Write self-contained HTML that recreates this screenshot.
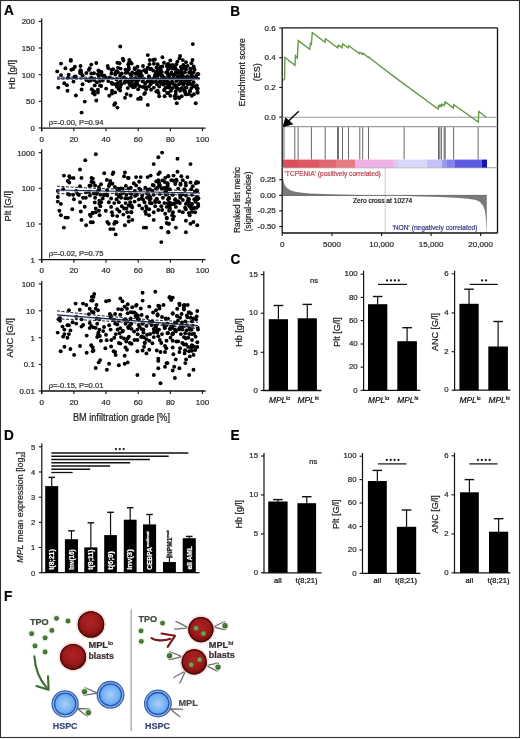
<!DOCTYPE html>
<html><head><meta charset="utf-8"><title>Figure</title>
<style>
html,body{margin:0;padding:0;background:#fff;}
svg{display:block;font-family:"Liberation Sans", sans-serif;filter:blur(0.35px);}
text{stroke-width:0.22px;paint-order:stroke;}
</style></head>
<body>
<svg width="520" height="739" viewBox="0 0 520 739">
<defs>
<radialGradient id="gred" cx="48%" cy="42%" r="58%"><stop offset="0" stop-color="#b02222"/><stop offset="0.6" stop-color="#9c1a1a"/><stop offset="0.85" stop-color="#801212"/><stop offset="1" stop-color="#520808"/></radialGradient>
<radialGradient id="gblue" cx="50%" cy="50%" r="55%"><stop offset="0" stop-color="#a6d0fb"/><stop offset="0.7" stop-color="#72b0f4"/><stop offset="1" stop-color="#5596e6"/></radialGradient>
<radialGradient id="gdot" cx="45%" cy="40%" r="60%"><stop offset="0" stop-color="#5a8a44"/><stop offset="1" stop-color="#2e5a22"/></radialGradient>
<radialGradient id="gdot2" cx="50%" cy="50%" r="55%"><stop offset="0" stop-color="#7aae58"/><stop offset="0.7" stop-color="#5f9844"/><stop offset="1" stop-color="#3d6e2c"/></radialGradient>
</defs>
<rect x="0" y="0" width="520" height="739" fill="#fff"/>
<text x="4.00" y="15.40" font-size="14.8" text-anchor="start" fill="#000" stroke="#000" font-weight="bold" textLength="9.82" lengthAdjust="spacingAndGlyphs">A</text>
<g fill="#000"><circle cx="70.8" cy="60.0" r="1.95"/><circle cx="61.0" cy="63.6" r="1.95"/><circle cx="80.5" cy="66.0" r="1.95"/><circle cx="91.3" cy="64.6" r="1.95"/><circle cx="65.4" cy="68.3" r="1.95"/><circle cx="71.3" cy="69.7" r="1.95"/><circle cx="80.5" cy="70.3" r="1.95"/><circle cx="89.7" cy="68.3" r="1.95"/><circle cx="57.2" cy="71.4" r="1.95"/><circle cx="80.0" cy="71.9" r="1.95"/><circle cx="86.4" cy="73.0" r="1.95"/><circle cx="91.3" cy="73.5" r="1.95"/><circle cx="61.0" cy="75.1" r="1.95"/><circle cx="68.6" cy="74.6" r="1.95"/><circle cx="74.5" cy="76.8" r="1.95"/><circle cx="68.1" cy="77.8" r="1.95"/><circle cx="86.4" cy="80.0" r="1.95"/><circle cx="90.8" cy="80.5" r="1.95"/><circle cx="73.5" cy="81.6" r="1.95"/><circle cx="64.3" cy="83.2" r="1.95"/><circle cx="67.0" cy="85.2" r="1.95"/><circle cx="58.3" cy="87.6" r="1.95"/><circle cx="82.6" cy="84.3" r="1.95"/><circle cx="81.6" cy="89.5" r="1.95"/><circle cx="91.8" cy="89.2" r="1.95"/><circle cx="92.9" cy="93.0" r="1.95"/><circle cx="67.5" cy="90.8" r="1.95"/><circle cx="84.8" cy="101.6" r="1.95"/><circle cx="81.6" cy="112.6" r="1.95"/><circle cx="120.3" cy="46.5" r="1.95"/><circle cx="96.3" cy="63.0" r="1.95"/><circle cx="122.8" cy="58.6" r="1.95"/><circle cx="123.4" cy="60.5" r="1.95"/><circle cx="117.4" cy="62.7" r="1.95"/><circle cx="119.6" cy="63.2" r="1.95"/><circle cx="129.3" cy="62.2" r="1.95"/><circle cx="128.2" cy="64.3" r="1.95"/><circle cx="107.7" cy="66.0" r="1.95"/><circle cx="108.2" cy="68.1" r="1.95"/><circle cx="113.1" cy="69.2" r="1.95"/><circle cx="118.0" cy="67.6" r="1.95"/><circle cx="120.6" cy="68.6" r="1.95"/><circle cx="125.5" cy="69.7" r="1.95"/><circle cx="128.8" cy="69.2" r="1.95"/><circle cx="99.6" cy="71.4" r="1.95"/><circle cx="97.9" cy="74.1" r="1.95"/><circle cx="101.7" cy="74.6" r="1.95"/><circle cx="104.4" cy="75.7" r="1.95"/><circle cx="111.5" cy="73.5" r="1.95"/><circle cx="115.2" cy="74.6" r="1.95"/><circle cx="118.0" cy="72.4" r="1.95"/><circle cx="121.7" cy="73.5" r="1.95"/><circle cx="127.7" cy="72.4" r="1.95"/><circle cx="130.4" cy="74.6" r="1.95"/><circle cx="94.2" cy="80.0" r="1.95"/><circle cx="96.9" cy="82.2" r="1.95"/><circle cx="102.8" cy="80.5" r="1.95"/><circle cx="108.2" cy="81.1" r="1.95"/><circle cx="111.5" cy="82.7" r="1.95"/><circle cx="115.2" cy="84.3" r="1.95"/><circle cx="118.0" cy="82.7" r="1.95"/><circle cx="120.6" cy="81.1" r="1.95"/><circle cx="124.4" cy="82.7" r="1.95"/><circle cx="129.3" cy="83.2" r="1.95"/><circle cx="130.9" cy="85.4" r="1.95"/><circle cx="94.7" cy="85.4" r="1.95"/><circle cx="101.2" cy="86.0" r="1.95"/><circle cx="106.1" cy="88.6" r="1.95"/><circle cx="97.9" cy="89.7" r="1.95"/><circle cx="94.2" cy="91.4" r="1.95"/><circle cx="97.9" cy="92.4" r="1.95"/><circle cx="112.0" cy="90.8" r="1.95"/><circle cx="115.2" cy="92.4" r="1.95"/><circle cx="112.0" cy="93.5" r="1.95"/><circle cx="109.3" cy="95.7" r="1.95"/><circle cx="126.6" cy="94.1" r="1.95"/><circle cx="125.0" cy="97.8" r="1.95"/><circle cx="94.7" cy="94.6" r="1.95"/><circle cx="96.3" cy="100.5" r="1.95"/><circle cx="115.2" cy="103.2" r="1.95"/><circle cx="114.2" cy="104.9" r="1.95"/><circle cx="117.4" cy="107.6" r="1.95"/><circle cx="147.8" cy="55.1" r="1.95"/><circle cx="162.4" cy="57.3" r="1.95"/><circle cx="153.2" cy="60.0" r="1.95"/><circle cx="154.9" cy="59.5" r="1.95"/><circle cx="130.5" cy="62.2" r="1.95"/><circle cx="164.0" cy="62.7" r="1.95"/><circle cx="149.5" cy="64.3" r="1.95"/><circle cx="157.6" cy="64.3" r="1.95"/><circle cx="168.4" cy="64.3" r="1.95"/><circle cx="143.0" cy="66.0" r="1.95"/><circle cx="147.8" cy="67.6" r="1.95"/><circle cx="151.1" cy="68.6" r="1.95"/><circle cx="160.3" cy="67.0" r="1.95"/><circle cx="162.4" cy="66.5" r="1.95"/><circle cx="166.8" cy="66.0" r="1.95"/><circle cx="134.9" cy="69.2" r="1.95"/><circle cx="144.1" cy="70.3" r="1.95"/><circle cx="159.2" cy="69.7" r="1.95"/><circle cx="168.4" cy="69.2" r="1.95"/><circle cx="132.2" cy="72.4" r="1.95"/><circle cx="136.5" cy="73.0" r="1.95"/><circle cx="140.8" cy="72.4" r="1.95"/><circle cx="146.2" cy="72.4" r="1.95"/><circle cx="155.9" cy="72.4" r="1.95"/><circle cx="160.3" cy="72.4" r="1.95"/><circle cx="166.2" cy="72.4" r="1.95"/><circle cx="131.6" cy="75.7" r="1.95"/><circle cx="138.1" cy="74.6" r="1.95"/><circle cx="141.9" cy="75.7" r="1.95"/><circle cx="148.9" cy="76.2" r="1.95"/><circle cx="154.9" cy="75.1" r="1.95"/><circle cx="158.6" cy="74.6" r="1.95"/><circle cx="162.4" cy="75.7" r="1.95"/><circle cx="167.8" cy="74.6" r="1.95"/><circle cx="132.2" cy="81.1" r="1.95"/><circle cx="136.5" cy="81.6" r="1.95"/><circle cx="143.0" cy="81.1" r="1.95"/><circle cx="147.3" cy="81.6" r="1.95"/><circle cx="151.6" cy="81.1" r="1.95"/><circle cx="155.9" cy="81.6" r="1.95"/><circle cx="160.8" cy="81.1" r="1.95"/><circle cx="166.8" cy="81.6" r="1.95"/><circle cx="132.2" cy="84.3" r="1.95"/><circle cx="135.9" cy="83.8" r="1.95"/><circle cx="145.1" cy="83.8" r="1.95"/><circle cx="150.5" cy="84.3" r="1.95"/><circle cx="157.0" cy="84.3" r="1.95"/><circle cx="163.5" cy="83.8" r="1.95"/><circle cx="168.4" cy="84.3" r="1.95"/><circle cx="132.7" cy="87.0" r="1.95"/><circle cx="143.0" cy="87.0" r="1.95"/><circle cx="148.9" cy="86.5" r="1.95"/><circle cx="153.8" cy="87.6" r="1.95"/><circle cx="159.2" cy="86.5" r="1.95"/><circle cx="165.7" cy="87.6" r="1.95"/><circle cx="138.1" cy="89.2" r="1.95"/><circle cx="146.2" cy="89.2" r="1.95"/><circle cx="151.1" cy="89.7" r="1.95"/><circle cx="157.6" cy="90.8" r="1.95"/><circle cx="145.1" cy="93.0" r="1.95"/><circle cx="144.1" cy="94.1" r="1.95"/><circle cx="158.6" cy="93.0" r="1.95"/><circle cx="159.2" cy="96.2" r="1.95"/><circle cx="168.4" cy="93.0" r="1.95"/><circle cx="164.6" cy="96.2" r="1.95"/><circle cx="138.1" cy="98.9" r="1.95"/><circle cx="140.8" cy="98.9" r="1.95"/><circle cx="147.8" cy="104.9" r="1.95"/><circle cx="192.8" cy="44.1" r="1.95"/><circle cx="180.1" cy="56.0" r="1.95"/><circle cx="179.5" cy="58.4" r="1.95"/><circle cx="170.3" cy="60.5" r="1.95"/><circle cx="192.5" cy="60.0" r="1.95"/><circle cx="186.0" cy="62.2" r="1.95"/><circle cx="177.4" cy="61.6" r="1.95"/><circle cx="191.4" cy="63.2" r="1.95"/><circle cx="167.6" cy="64.3" r="1.95"/><circle cx="172.5" cy="64.9" r="1.95"/><circle cx="176.3" cy="64.3" r="1.95"/><circle cx="183.3" cy="64.9" r="1.95"/><circle cx="187.6" cy="65.9" r="1.95"/><circle cx="193.6" cy="66.5" r="1.95"/><circle cx="168.2" cy="68.1" r="1.95"/><circle cx="171.9" cy="67.6" r="1.95"/><circle cx="175.7" cy="68.6" r="1.95"/><circle cx="181.7" cy="69.2" r="1.95"/><circle cx="186.0" cy="69.2" r="1.95"/><circle cx="190.3" cy="68.6" r="1.95"/><circle cx="194.6" cy="69.7" r="1.95"/><circle cx="167.1" cy="71.9" r="1.95"/><circle cx="171.4" cy="72.4" r="1.95"/><circle cx="175.7" cy="73.0" r="1.95"/><circle cx="180.6" cy="72.4" r="1.95"/><circle cx="184.9" cy="72.4" r="1.95"/><circle cx="189.2" cy="72.4" r="1.95"/><circle cx="193.6" cy="72.4" r="1.95"/><circle cx="198.4" cy="74.1" r="1.95"/><circle cx="169.2" cy="75.7" r="1.95"/><circle cx="173.6" cy="75.7" r="1.95"/><circle cx="177.9" cy="76.2" r="1.95"/><circle cx="182.2" cy="75.7" r="1.95"/><circle cx="187.6" cy="76.2" r="1.95"/><circle cx="191.9" cy="75.7" r="1.95"/><circle cx="196.3" cy="75.7" r="1.95"/><circle cx="167.6" cy="81.1" r="1.95"/><circle cx="171.9" cy="81.6" r="1.95"/><circle cx="176.3" cy="81.1" r="1.95"/><circle cx="180.6" cy="81.6" r="1.95"/><circle cx="184.9" cy="81.1" r="1.95"/><circle cx="189.2" cy="81.6" r="1.95"/><circle cx="193.6" cy="82.2" r="1.95"/><circle cx="169.8" cy="84.3" r="1.95"/><circle cx="174.1" cy="84.9" r="1.95"/><circle cx="179.0" cy="84.3" r="1.95"/><circle cx="183.3" cy="84.9" r="1.95"/><circle cx="187.6" cy="84.3" r="1.95"/><circle cx="192.5" cy="84.9" r="1.95"/><circle cx="196.8" cy="85.4" r="1.95"/><circle cx="168.2" cy="87.6" r="1.95"/><circle cx="172.5" cy="88.1" r="1.95"/><circle cx="176.8" cy="87.6" r="1.95"/><circle cx="181.7" cy="88.1" r="1.95"/><circle cx="186.5" cy="87.6" r="1.95"/><circle cx="191.4" cy="88.1" r="1.95"/><circle cx="196.8" cy="88.6" r="1.95"/><circle cx="170.9" cy="90.8" r="1.95"/><circle cx="175.7" cy="91.4" r="1.95"/><circle cx="180.1" cy="90.8" r="1.95"/><circle cx="184.9" cy="91.4" r="1.95"/><circle cx="189.8" cy="91.9" r="1.95"/><circle cx="197.4" cy="91.9" r="1.95"/><circle cx="167.1" cy="93.0" r="1.95"/><circle cx="170.3" cy="95.7" r="1.95"/><circle cx="175.7" cy="94.1" r="1.95"/><circle cx="181.7" cy="96.2" r="1.95"/><circle cx="185.5" cy="94.1" r="1.95"/><circle cx="188.7" cy="94.1" r="1.95"/><circle cx="175.2" cy="98.4" r="1.95"/><circle cx="176.8" cy="103.2" r="1.95"/><circle cx="195.7" cy="103.2" r="1.95"/><circle cx="190.8" cy="79.4" r="1.95"/><circle cx="137.5" cy="84.5" r="1.95"/><circle cx="152.5" cy="82.0" r="1.95"/><circle cx="136.3" cy="82.4" r="1.95"/><circle cx="135.2" cy="73.8" r="1.95"/><circle cx="194.1" cy="86.4" r="1.95"/><circle cx="182.8" cy="60.1" r="1.95"/><circle cx="176.2" cy="72.3" r="1.95"/><circle cx="185.3" cy="66.6" r="1.95"/><circle cx="174.2" cy="68.7" r="1.95"/><circle cx="126.9" cy="81.6" r="1.95"/><circle cx="117.5" cy="84.9" r="1.95"/><circle cx="146.8" cy="69.4" r="1.95"/><circle cx="180.2" cy="77.9" r="1.95"/><circle cx="193.9" cy="94.2" r="1.95"/><circle cx="128.8" cy="80.6" r="1.95"/><circle cx="190.0" cy="90.5" r="1.95"/><circle cx="134.1" cy="87.1" r="1.95"/><circle cx="185.0" cy="88.0" r="1.95"/><circle cx="182.5" cy="75.4" r="1.95"/><circle cx="150.1" cy="81.2" r="1.95"/><circle cx="140.5" cy="97.6" r="1.95"/><circle cx="156.8" cy="71.6" r="1.95"/><circle cx="157.4" cy="68.5" r="1.95"/><circle cx="197.8" cy="88.8" r="1.95"/><circle cx="80.5" cy="73.2" r="1.95"/><circle cx="156.8" cy="78.6" r="1.95"/><circle cx="183.8" cy="83.3" r="1.95"/><circle cx="174.4" cy="74.8" r="1.95"/><circle cx="157.5" cy="76.2" r="1.95"/><circle cx="184.0" cy="68.1" r="1.95"/><circle cx="191.3" cy="77.0" r="1.95"/><circle cx="180.8" cy="66.9" r="1.95"/><circle cx="136.9" cy="81.6" r="1.95"/><circle cx="134.3" cy="79.0" r="1.95"/><circle cx="120.2" cy="87.3" r="1.95"/><circle cx="98.7" cy="76.0" r="1.95"/><circle cx="145.5" cy="87.2" r="1.95"/><circle cx="127.8" cy="88.1" r="1.95"/><circle cx="178.0" cy="88.7" r="1.95"/><circle cx="163.4" cy="84.6" r="1.95"/><circle cx="159.4" cy="81.9" r="1.95"/><circle cx="125.4" cy="80.4" r="1.95"/><circle cx="172.0" cy="74.1" r="1.95"/><circle cx="195.5" cy="77.6" r="1.95"/><circle cx="183.4" cy="77.7" r="1.95"/><circle cx="191.8" cy="95.8" r="1.95"/><circle cx="156.4" cy="67.6" r="1.95"/><circle cx="191.9" cy="75.8" r="1.95"/><circle cx="163.9" cy="80.3" r="1.95"/><circle cx="160.9" cy="70.0" r="1.95"/><circle cx="190.9" cy="84.2" r="1.95"/><circle cx="176.6" cy="72.6" r="1.95"/><circle cx="88.9" cy="81.1" r="1.95"/><circle cx="149.6" cy="78.3" r="1.95"/><circle cx="129.3" cy="60.0" r="1.95"/><circle cx="184.2" cy="83.1" r="1.95"/><circle cx="128.7" cy="67.1" r="1.95"/><circle cx="186.5" cy="80.8" r="1.95"/><circle cx="184.1" cy="90.5" r="1.95"/><circle cx="130.3" cy="85.4" r="1.95"/><circle cx="168.9" cy="78.0" r="1.95"/><circle cx="188.8" cy="78.5" r="1.95"/><circle cx="177.3" cy="79.6" r="1.95"/><circle cx="140.7" cy="76.1" r="1.95"/><circle cx="190.3" cy="70.9" r="1.95"/><circle cx="191.8" cy="78.1" r="1.95"/><circle cx="109.7" cy="77.5" r="1.95"/><circle cx="130.6" cy="95.5" r="1.95"/><circle cx="153.2" cy="82.3" r="1.95"/><circle cx="178.1" cy="97.1" r="1.95"/><circle cx="105.9" cy="77.8" r="1.95"/><circle cx="182.1" cy="81.1" r="1.95"/><circle cx="188.0" cy="78.3" r="1.95"/><circle cx="138.4" cy="71.0" r="1.95"/><circle cx="111.4" cy="70.0" r="1.95"/><circle cx="120.1" cy="75.7" r="1.95"/><circle cx="140.0" cy="86.4" r="1.95"/><circle cx="150.3" cy="69.0" r="1.95"/><circle cx="168.7" cy="66.6" r="1.95"/><circle cx="189.3" cy="77.6" r="1.95"/><circle cx="190.3" cy="72.7" r="1.95"/><circle cx="182.0" cy="72.2" r="1.95"/><circle cx="156.3" cy="91.4" r="1.95"/><circle cx="163.6" cy="77.5" r="1.95"/><circle cx="181.0" cy="82.7" r="1.95"/><circle cx="184.7" cy="77.3" r="1.95"/><circle cx="121.2" cy="84.4" r="1.95"/><circle cx="124.0" cy="77.1" r="1.95"/><circle cx="75.5" cy="76.4" r="1.95"/><circle cx="161.2" cy="83.6" r="1.95"/><circle cx="179.8" cy="77.2" r="1.95"/><circle cx="118.5" cy="88.9" r="1.95"/><circle cx="101.5" cy="71.9" r="1.95"/><circle cx="120.2" cy="90.6" r="1.95"/><circle cx="193.9" cy="68.5" r="1.95"/><circle cx="160.1" cy="74.3" r="1.95"/><circle cx="172.6" cy="78.8" r="1.95"/><circle cx="134.6" cy="68.2" r="1.95"/><circle cx="115.5" cy="72.7" r="1.95"/><circle cx="167.1" cy="83.8" r="1.95"/><circle cx="82.7" cy="75.6" r="1.95"/><circle cx="140.2" cy="71.5" r="1.95"/><circle cx="163.2" cy="84.0" r="1.95"/><circle cx="183.6" cy="78.5" r="1.95"/><circle cx="170.8" cy="82.6" r="1.95"/><circle cx="164.2" cy="90.2" r="1.95"/><circle cx="91.3" cy="77.7" r="1.95"/><circle cx="151.3" cy="80.6" r="1.95"/><circle cx="179.1" cy="98.0" r="1.95"/><circle cx="70.8" cy="60.7" r="1.95"/><circle cx="131.6" cy="79.5" r="1.95"/><circle cx="116.9" cy="71.1" r="1.95"/><circle cx="142.6" cy="81.4" r="1.95"/><circle cx="81.0" cy="70.9" r="1.95"/><circle cx="197.7" cy="73.9" r="1.95"/><circle cx="137.5" cy="66.8" r="1.95"/><circle cx="112.5" cy="84.0" r="1.95"/><circle cx="186.5" cy="77.9" r="1.95"/><circle cx="180.9" cy="75.3" r="1.95"/><circle cx="73.3" cy="69.0" r="1.95"/><circle cx="176.4" cy="87.9" r="1.95"/><circle cx="131.6" cy="63.6" r="1.95"/><circle cx="116.9" cy="86.8" r="1.95"/><circle cx="100.1" cy="81.0" r="1.95"/><circle cx="94.0" cy="73.3" r="1.95"/><circle cx="179.1" cy="78.5" r="1.95"/><circle cx="169.7" cy="65.5" r="1.95"/><circle cx="164.4" cy="89.7" r="1.95"/><circle cx="173.1" cy="67.0" r="1.95"/><circle cx="125.7" cy="72.9" r="1.95"/><circle cx="100.0" cy="85.4" r="1.95"/><circle cx="168.7" cy="74.4" r="1.95"/><circle cx="138.8" cy="79.7" r="1.95"/><circle cx="116.5" cy="79.4" r="1.95"/><circle cx="161.8" cy="72.0" r="1.95"/><circle cx="81.5" cy="73.8" r="1.95"/><circle cx="197.7" cy="92.7" r="1.95"/><circle cx="175.5" cy="85.3" r="1.95"/><circle cx="168.6" cy="82.6" r="1.95"/><circle cx="165.9" cy="78.3" r="1.95"/><circle cx="98.4" cy="70.4" r="1.95"/><circle cx="74.9" cy="66.8" r="1.95"/><circle cx="180.2" cy="82.9" r="1.95"/><circle cx="177.3" cy="72.9" r="1.95"/><circle cx="102.3" cy="75.4" r="1.95"/><circle cx="172.2" cy="68.4" r="1.95"/><circle cx="153.9" cy="63.8" r="1.95"/><circle cx="167.2" cy="78.7" r="1.95"/><circle cx="88.9" cy="69.9" r="1.95"/><circle cx="186.4" cy="94.4" r="1.95"/><circle cx="185.1" cy="91.7" r="1.95"/><circle cx="161.3" cy="75.4" r="1.95"/><circle cx="176.4" cy="87.4" r="1.95"/><circle cx="153.2" cy="70.6" r="1.95"/><circle cx="169.6" cy="87.4" r="1.95"/><circle cx="75.9" cy="95.5" r="1.95"/><circle cx="111.9" cy="83.1" r="1.95"/><circle cx="174.7" cy="96.3" r="1.95"/><circle cx="149.8" cy="60.0" r="1.95"/><circle cx="154.5" cy="77.3" r="1.95"/><circle cx="139.3" cy="75.6" r="1.95"/><circle cx="166.3" cy="83.5" r="1.95"/><circle cx="135.8" cy="78.0" r="1.95"/><circle cx="172.8" cy="82.9" r="1.95"/><circle cx="161.3" cy="79.2" r="1.95"/><circle cx="178.0" cy="70.7" r="1.95"/><circle cx="174.9" cy="66.7" r="1.95"/><circle cx="135.0" cy="86.6" r="1.95"/><circle cx="140.7" cy="72.0" r="1.95"/></g>
<polyline points="57.0,77.0 64.2,77.1 71.3,77.1 78.5,77.2 85.6,77.2 92.8,77.3 99.9,77.3 107.0,77.3 114.2,77.4 121.4,77.4 128.5,77.4 135.7,77.4 142.8,77.5 149.9,77.5 157.1,77.5 164.2,77.5 171.4,77.5 178.6,77.5 185.7,77.5 192.8,77.5 200.0,77.5" fill="none" stroke="#222" stroke-width="1" stroke-dasharray="3,1.5"/>
<polyline points="57.0,79.4 64.2,79.4 71.3,79.4 78.5,79.4 85.6,79.3 92.8,79.3 99.9,79.3 107.0,79.3 114.2,79.4 121.4,79.4 128.5,79.4 135.7,79.4 142.8,79.4 149.9,79.4 157.1,79.5 164.2,79.5 171.4,79.5 178.6,79.6 185.7,79.6 192.8,79.7 200.0,79.7" fill="none" stroke="#222" stroke-width="1" stroke-dasharray="3,1.5"/>
<line x1="57.00" y1="79.10" x2="200.00" y2="79.50" stroke="#c8d0e0" stroke-width="0.7"/>
<line x1="57.00" y1="78.20" x2="200.00" y2="78.60" stroke="#1e2b50" stroke-width="1.1"/>
<line x1="41.70" y1="18.50" x2="41.70" y2="131.20" stroke="#111" stroke-width="1.3"/>
<line x1="38.70" y1="21.40" x2="41.70" y2="21.40" stroke="#111" stroke-width="1.1"/>
<text x="34.80" y="24.25" font-size="7.9" text-anchor="end" fill="#2a2a2a" stroke="#2a2a2a">200</text>
<line x1="38.70" y1="48.00" x2="41.70" y2="48.00" stroke="#111" stroke-width="1.1"/>
<text x="34.80" y="50.85" font-size="7.9" text-anchor="end" fill="#2a2a2a" stroke="#2a2a2a">150</text>
<line x1="38.70" y1="74.70" x2="41.70" y2="74.70" stroke="#111" stroke-width="1.1"/>
<text x="34.80" y="77.55" font-size="7.9" text-anchor="end" fill="#2a2a2a" stroke="#2a2a2a">100</text>
<line x1="38.70" y1="101.30" x2="41.70" y2="101.30" stroke="#111" stroke-width="1.1"/>
<text x="34.80" y="104.15" font-size="7.9" text-anchor="end" fill="#2a2a2a" stroke="#2a2a2a">50</text>
<line x1="38.70" y1="127.90" x2="41.70" y2="127.90" stroke="#111" stroke-width="1.1"/>
<text x="34.80" y="130.75" font-size="7.9" text-anchor="end" fill="#2a2a2a" stroke="#2a2a2a">0</text>
<line x1="41.70" y1="128.20" x2="205.60" y2="128.20" stroke="#111" stroke-width="1.3"/>
<line x1="41.70" y1="128.20" x2="41.70" y2="131.20" stroke="#111" stroke-width="1.1"/>
<text x="41.70" y="141.60" font-size="8.0" text-anchor="middle" fill="#2a2a2a" stroke="#2a2a2a">0</text>
<line x1="73.86" y1="128.20" x2="73.86" y2="131.20" stroke="#111" stroke-width="1.1"/>
<text x="73.86" y="141.60" font-size="8.0" text-anchor="middle" fill="#2a2a2a" stroke="#2a2a2a">20</text>
<line x1="106.02" y1="128.20" x2="106.02" y2="131.20" stroke="#111" stroke-width="1.1"/>
<text x="106.02" y="141.60" font-size="8.0" text-anchor="middle" fill="#2a2a2a" stroke="#2a2a2a">40</text>
<line x1="138.18" y1="128.20" x2="138.18" y2="131.20" stroke="#111" stroke-width="1.1"/>
<text x="138.18" y="141.60" font-size="8.0" text-anchor="middle" fill="#2a2a2a" stroke="#2a2a2a">60</text>
<line x1="170.34" y1="128.20" x2="170.34" y2="131.20" stroke="#111" stroke-width="1.1"/>
<text x="170.34" y="141.60" font-size="8.0" text-anchor="middle" fill="#2a2a2a" stroke="#2a2a2a">80</text>
<line x1="202.50" y1="128.20" x2="202.50" y2="131.20" stroke="#111" stroke-width="1.1"/>
<text x="202.50" y="141.60" font-size="8.0" text-anchor="middle" fill="#2a2a2a" stroke="#2a2a2a">100</text>
<text x="48.80" y="124.90" font-size="7.6" text-anchor="start" fill="#333" stroke="#333">ρ=-0.00, P=0.94</text>
<text x="15.40" y="74.60" font-size="9.3" text-anchor="middle" fill="#222" stroke="#222" transform="rotate(-90 15.40 74.60)">Hb [g/l]</text>
<g fill="#000"><circle cx="85.3" cy="160.3" r="1.95"/><circle cx="80.0" cy="169.5" r="1.95"/><circle cx="63.9" cy="175.6" r="1.95"/><circle cx="69.3" cy="176.3" r="1.95"/><circle cx="70.1" cy="177.9" r="1.95"/><circle cx="81.5" cy="177.9" r="1.95"/><circle cx="91.5" cy="177.9" r="1.95"/><circle cx="67.8" cy="180.9" r="1.95"/><circle cx="69.3" cy="182.5" r="1.95"/><circle cx="91.5" cy="181.7" r="1.95"/><circle cx="80.0" cy="186.3" r="1.95"/><circle cx="90.7" cy="185.5" r="1.95"/><circle cx="57.8" cy="190.9" r="1.95"/><circle cx="63.2" cy="189.3" r="1.95"/><circle cx="76.2" cy="190.9" r="1.95"/><circle cx="86.1" cy="192.4" r="1.95"/><circle cx="89.2" cy="191.6" r="1.95"/><circle cx="67.8" cy="193.9" r="1.95"/><circle cx="69.3" cy="194.7" r="1.95"/><circle cx="73.1" cy="194.7" r="1.95"/><circle cx="77.7" cy="193.9" r="1.95"/><circle cx="89.9" cy="195.5" r="1.95"/><circle cx="57.8" cy="197.0" r="1.95"/><circle cx="73.9" cy="199.3" r="1.95"/><circle cx="83.1" cy="197.8" r="1.95"/><circle cx="57.8" cy="201.6" r="1.95"/><circle cx="60.9" cy="203.9" r="1.95"/><circle cx="80.0" cy="202.3" r="1.95"/><circle cx="72.3" cy="209.2" r="1.95"/><circle cx="59.4" cy="210.7" r="1.95"/><circle cx="80.8" cy="211.5" r="1.95"/><circle cx="60.9" cy="215.3" r="1.95"/><circle cx="89.9" cy="214.6" r="1.95"/><circle cx="90.7" cy="216.1" r="1.95"/><circle cx="65.5" cy="217.6" r="1.95"/><circle cx="67.8" cy="217.6" r="1.95"/><circle cx="81.5" cy="219.9" r="1.95"/><circle cx="90.7" cy="222.2" r="1.95"/><circle cx="86.1" cy="225.3" r="1.95"/><circle cx="63.9" cy="227.6" r="1.95"/><circle cx="95.8" cy="154.2" r="1.95"/><circle cx="104.2" cy="173.3" r="1.95"/><circle cx="112.6" cy="174.1" r="1.95"/><circle cx="113.4" cy="172.5" r="1.95"/><circle cx="124.9" cy="172.5" r="1.95"/><circle cx="124.1" cy="176.3" r="1.95"/><circle cx="127.9" cy="177.9" r="1.95"/><circle cx="110.3" cy="180.9" r="1.95"/><circle cx="109.6" cy="184.0" r="1.95"/><circle cx="92.8" cy="178.6" r="1.95"/><circle cx="93.5" cy="182.5" r="1.95"/><circle cx="95.1" cy="185.5" r="1.95"/><circle cx="98.9" cy="187.0" r="1.95"/><circle cx="114.9" cy="187.0" r="1.95"/><circle cx="119.5" cy="189.3" r="1.95"/><circle cx="122.6" cy="188.6" r="1.95"/><circle cx="128.7" cy="188.6" r="1.95"/><circle cx="96.6" cy="193.9" r="1.95"/><circle cx="100.4" cy="194.7" r="1.95"/><circle cx="107.3" cy="195.5" r="1.95"/><circle cx="116.5" cy="193.9" r="1.95"/><circle cx="122.6" cy="193.2" r="1.95"/><circle cx="126.4" cy="194.7" r="1.95"/><circle cx="130.2" cy="193.2" r="1.95"/><circle cx="95.1" cy="197.8" r="1.95"/><circle cx="102.7" cy="198.5" r="1.95"/><circle cx="111.1" cy="198.5" r="1.95"/><circle cx="116.5" cy="199.3" r="1.95"/><circle cx="121.1" cy="197.8" r="1.95"/><circle cx="127.9" cy="198.5" r="1.95"/><circle cx="101.2" cy="202.3" r="1.95"/><circle cx="108.8" cy="202.3" r="1.95"/><circle cx="114.2" cy="203.1" r="1.95"/><circle cx="118.8" cy="202.3" r="1.95"/><circle cx="125.6" cy="203.1" r="1.95"/><circle cx="130.2" cy="202.3" r="1.95"/><circle cx="100.4" cy="206.2" r="1.95"/><circle cx="111.1" cy="206.9" r="1.95"/><circle cx="121.8" cy="206.2" r="1.95"/><circle cx="128.7" cy="205.4" r="1.95"/><circle cx="95.8" cy="208.5" r="1.95"/><circle cx="117.2" cy="209.2" r="1.95"/><circle cx="124.1" cy="208.5" r="1.95"/><circle cx="98.9" cy="210.7" r="1.95"/><circle cx="105.8" cy="210.7" r="1.95"/><circle cx="111.9" cy="212.3" r="1.95"/><circle cx="119.5" cy="211.5" r="1.95"/><circle cx="127.2" cy="212.3" r="1.95"/><circle cx="92.8" cy="213.0" r="1.95"/><circle cx="131.0" cy="212.3" r="1.95"/><circle cx="99.6" cy="215.3" r="1.95"/><circle cx="112.6" cy="215.3" r="1.95"/><circle cx="117.2" cy="216.1" r="1.95"/><circle cx="123.3" cy="214.6" r="1.95"/><circle cx="128.7" cy="216.9" r="1.95"/><circle cx="128.7" cy="221.5" r="1.95"/><circle cx="108.8" cy="223.7" r="1.95"/><circle cx="114.2" cy="223.7" r="1.95"/><circle cx="116.5" cy="222.2" r="1.95"/><circle cx="124.9" cy="225.3" r="1.95"/><circle cx="92.8" cy="222.2" r="1.95"/><circle cx="110.3" cy="229.1" r="1.95"/><circle cx="113.4" cy="229.1" r="1.95"/><circle cx="115.7" cy="234.4" r="1.95"/><circle cx="162.1" cy="152.6" r="1.95"/><circle cx="158.3" cy="157.2" r="1.95"/><circle cx="153.7" cy="164.1" r="1.95"/><circle cx="159.8" cy="172.5" r="1.95"/><circle cx="158.3" cy="174.1" r="1.95"/><circle cx="136.1" cy="177.1" r="1.95"/><circle cx="140.7" cy="177.1" r="1.95"/><circle cx="147.6" cy="177.1" r="1.95"/><circle cx="150.6" cy="175.6" r="1.95"/><circle cx="165.2" cy="177.9" r="1.95"/><circle cx="168.2" cy="176.3" r="1.95"/><circle cx="158.3" cy="180.2" r="1.95"/><circle cx="139.2" cy="181.7" r="1.95"/><circle cx="133.8" cy="183.2" r="1.95"/><circle cx="159.1" cy="183.2" r="1.95"/><circle cx="136.1" cy="185.5" r="1.95"/><circle cx="153.7" cy="185.5" r="1.95"/><circle cx="130.8" cy="187.8" r="1.95"/><circle cx="139.2" cy="188.6" r="1.95"/><circle cx="145.3" cy="187.8" r="1.95"/><circle cx="149.9" cy="189.3" r="1.95"/><circle cx="156.0" cy="188.6" r="1.95"/><circle cx="162.9" cy="188.6" r="1.95"/><circle cx="167.5" cy="189.3" r="1.95"/><circle cx="131.5" cy="193.9" r="1.95"/><circle cx="136.9" cy="194.7" r="1.95"/><circle cx="142.2" cy="195.5" r="1.95"/><circle cx="148.3" cy="193.9" r="1.95"/><circle cx="153.7" cy="194.7" r="1.95"/><circle cx="159.8" cy="193.9" r="1.95"/><circle cx="165.9" cy="194.7" r="1.95"/><circle cx="130.8" cy="197.8" r="1.95"/><circle cx="141.5" cy="198.5" r="1.95"/><circle cx="150.6" cy="198.5" r="1.95"/><circle cx="156.8" cy="199.3" r="1.95"/><circle cx="162.9" cy="197.8" r="1.95"/><circle cx="168.2" cy="199.3" r="1.95"/><circle cx="134.6" cy="201.6" r="1.95"/><circle cx="144.5" cy="202.3" r="1.95"/><circle cx="149.9" cy="203.1" r="1.95"/><circle cx="159.1" cy="202.3" r="1.95"/><circle cx="164.4" cy="203.1" r="1.95"/><circle cx="131.5" cy="205.4" r="1.95"/><circle cx="139.2" cy="205.4" r="1.95"/><circle cx="146.1" cy="206.2" r="1.95"/><circle cx="155.2" cy="206.2" r="1.95"/><circle cx="161.3" cy="206.2" r="1.95"/><circle cx="166.7" cy="206.9" r="1.95"/><circle cx="142.2" cy="208.5" r="1.95"/><circle cx="149.1" cy="209.2" r="1.95"/><circle cx="158.3" cy="210.0" r="1.95"/><circle cx="162.1" cy="210.0" r="1.95"/><circle cx="145.3" cy="211.5" r="1.95"/><circle cx="153.7" cy="212.3" r="1.95"/><circle cx="131.5" cy="212.3" r="1.95"/><circle cx="165.2" cy="213.8" r="1.95"/><circle cx="149.1" cy="215.3" r="1.95"/><circle cx="169.8" cy="209.2" r="1.95"/><circle cx="132.3" cy="219.9" r="1.95"/><circle cx="153.7" cy="219.9" r="1.95"/><circle cx="166.7" cy="217.6" r="1.95"/><circle cx="166.7" cy="223.0" r="1.95"/><circle cx="169.0" cy="223.7" r="1.95"/><circle cx="143.8" cy="227.6" r="1.95"/><circle cx="146.1" cy="227.6" r="1.95"/><circle cx="161.3" cy="227.6" r="1.95"/><circle cx="168.2" cy="232.2" r="1.95"/><circle cx="161.3" cy="242.1" r="1.95"/><circle cx="177.5" cy="158.8" r="1.95"/><circle cx="190.5" cy="164.1" r="1.95"/><circle cx="177.5" cy="171.8" r="1.95"/><circle cx="168.3" cy="176.3" r="1.95"/><circle cx="173.6" cy="175.6" r="1.95"/><circle cx="181.3" cy="176.3" r="1.95"/><circle cx="187.4" cy="177.1" r="1.95"/><circle cx="171.4" cy="180.2" r="1.95"/><circle cx="176.7" cy="180.9" r="1.95"/><circle cx="182.8" cy="180.2" r="1.95"/><circle cx="190.5" cy="182.5" r="1.95"/><circle cx="198.1" cy="182.5" r="1.95"/><circle cx="167.5" cy="184.8" r="1.95"/><circle cx="175.2" cy="184.0" r="1.95"/><circle cx="180.5" cy="184.8" r="1.95"/><circle cx="185.9" cy="185.5" r="1.95"/><circle cx="192.8" cy="186.3" r="1.95"/><circle cx="169.8" cy="189.3" r="1.95"/><circle cx="178.2" cy="188.6" r="1.95"/><circle cx="184.3" cy="189.3" r="1.95"/><circle cx="191.2" cy="189.3" r="1.95"/><circle cx="196.6" cy="190.1" r="1.95"/><circle cx="167.5" cy="193.9" r="1.95"/><circle cx="172.9" cy="194.7" r="1.95"/><circle cx="179.8" cy="194.7" r="1.95"/><circle cx="185.9" cy="195.5" r="1.95"/><circle cx="192.0" cy="194.7" r="1.95"/><circle cx="196.6" cy="197.0" r="1.95"/><circle cx="169.1" cy="198.5" r="1.95"/><circle cx="175.2" cy="199.3" r="1.95"/><circle cx="182.8" cy="200.0" r="1.95"/><circle cx="188.9" cy="199.3" r="1.95"/><circle cx="194.3" cy="199.3" r="1.95"/><circle cx="167.5" cy="203.1" r="1.95"/><circle cx="172.9" cy="203.9" r="1.95"/><circle cx="179.8" cy="203.1" r="1.95"/><circle cx="185.9" cy="203.9" r="1.95"/><circle cx="192.0" cy="203.9" r="1.95"/><circle cx="198.1" cy="203.9" r="1.95"/><circle cx="169.8" cy="207.7" r="1.95"/><circle cx="175.9" cy="206.9" r="1.95"/><circle cx="185.1" cy="207.7" r="1.95"/><circle cx="190.5" cy="206.9" r="1.95"/><circle cx="196.6" cy="207.7" r="1.95"/><circle cx="169.1" cy="210.7" r="1.95"/><circle cx="172.9" cy="212.3" r="1.95"/><circle cx="182.8" cy="212.3" r="1.95"/><circle cx="188.9" cy="213.0" r="1.95"/><circle cx="195.1" cy="212.3" r="1.95"/><circle cx="172.1" cy="215.3" r="1.95"/><circle cx="189.7" cy="215.3" r="1.95"/><circle cx="166.8" cy="218.4" r="1.95"/><circle cx="172.9" cy="219.2" r="1.95"/><circle cx="185.9" cy="220.7" r="1.95"/><circle cx="168.3" cy="223.7" r="1.95"/><circle cx="190.5" cy="223.7" r="1.95"/><circle cx="197.3" cy="225.3" r="1.95"/><circle cx="175.9" cy="227.6" r="1.95"/><circle cx="168.3" cy="232.2" r="1.95"/><circle cx="185.9" cy="232.2" r="1.95"/><circle cx="120.5" cy="194.2" r="1.95"/><circle cx="149.9" cy="196.5" r="1.95"/><circle cx="84.7" cy="206.7" r="1.95"/><circle cx="107.3" cy="222.0" r="1.95"/><circle cx="180.5" cy="183.8" r="1.95"/><circle cx="165.1" cy="192.5" r="1.95"/><circle cx="73.5" cy="178.0" r="1.95"/><circle cx="198.3" cy="206.0" r="1.95"/><circle cx="194.3" cy="207.8" r="1.95"/><circle cx="118.8" cy="196.5" r="1.95"/><circle cx="118.1" cy="188.8" r="1.95"/><circle cx="146.9" cy="208.6" r="1.95"/><circle cx="158.5" cy="182.3" r="1.95"/><circle cx="78.9" cy="195.0" r="1.95"/><circle cx="195.5" cy="201.8" r="1.95"/><circle cx="176.3" cy="179.7" r="1.95"/><circle cx="173.8" cy="216.5" r="1.95"/><circle cx="138.8" cy="199.5" r="1.95"/><circle cx="191.3" cy="204.0" r="1.95"/><circle cx="93.8" cy="193.5" r="1.95"/><circle cx="189.0" cy="205.8" r="1.95"/><circle cx="101.0" cy="184.2" r="1.95"/><circle cx="185.9" cy="209.2" r="1.95"/><circle cx="107.1" cy="190.3" r="1.95"/><circle cx="125.3" cy="198.2" r="1.95"/><circle cx="195.8" cy="183.3" r="1.95"/><circle cx="104.0" cy="195.3" r="1.95"/><circle cx="197.3" cy="199.4" r="1.95"/><circle cx="123.4" cy="192.5" r="1.95"/><circle cx="156.2" cy="181.4" r="1.95"/><circle cx="188.7" cy="201.7" r="1.95"/><circle cx="191.3" cy="208.8" r="1.95"/><circle cx="162.3" cy="180.4" r="1.95"/><circle cx="155.5" cy="202.0" r="1.95"/><circle cx="99.3" cy="203.8" r="1.95"/><circle cx="130.0" cy="205.9" r="1.95"/><circle cx="173.6" cy="180.7" r="1.95"/><circle cx="99.3" cy="200.6" r="1.95"/><circle cx="170.7" cy="203.2" r="1.95"/><circle cx="175.0" cy="200.1" r="1.95"/><circle cx="159.0" cy="185.7" r="1.95"/><circle cx="92.7" cy="212.7" r="1.95"/><circle cx="176.9" cy="202.6" r="1.95"/><circle cx="156.7" cy="198.8" r="1.95"/><circle cx="146.0" cy="213.9" r="1.95"/><circle cx="169.5" cy="202.6" r="1.95"/><circle cx="126.3" cy="208.5" r="1.95"/><circle cx="169.2" cy="205.2" r="1.95"/><circle cx="187.9" cy="202.6" r="1.95"/><circle cx="197.0" cy="191.3" r="1.95"/><circle cx="190.5" cy="206.8" r="1.95"/><circle cx="174.1" cy="203.9" r="1.95"/><circle cx="94.8" cy="202.5" r="1.95"/><circle cx="164.3" cy="187.9" r="1.95"/><circle cx="181.1" cy="193.7" r="1.95"/><circle cx="193.4" cy="222.0" r="1.95"/><circle cx="191.5" cy="205.0" r="1.95"/><circle cx="185.0" cy="189.9" r="1.95"/><circle cx="134.8" cy="191.1" r="1.95"/><circle cx="117.4" cy="189.7" r="1.95"/><circle cx="108.9" cy="186.0" r="1.95"/><circle cx="196.5" cy="182.0" r="1.95"/><circle cx="85.8" cy="197.7" r="1.95"/><circle cx="193.1" cy="208.5" r="1.95"/><circle cx="171.4" cy="204.4" r="1.95"/><circle cx="115.0" cy="222.0" r="1.95"/><circle cx="172.2" cy="194.6" r="1.95"/><circle cx="187.6" cy="201.2" r="1.95"/><circle cx="120.8" cy="188.4" r="1.95"/><circle cx="169.0" cy="197.8" r="1.95"/><circle cx="132.2" cy="207.5" r="1.95"/><circle cx="149.6" cy="200.1" r="1.95"/><circle cx="157.5" cy="187.7" r="1.95"/><circle cx="167.7" cy="186.1" r="1.95"/><circle cx="152.4" cy="190.6" r="1.95"/><circle cx="152.6" cy="185.0" r="1.95"/><circle cx="112.4" cy="183.8" r="1.95"/><circle cx="188.3" cy="198.8" r="1.95"/><circle cx="185.7" cy="183.0" r="1.95"/><circle cx="161.6" cy="188.2" r="1.95"/><circle cx="178.3" cy="201.2" r="1.95"/><circle cx="128.6" cy="178.0" r="1.95"/><circle cx="151.7" cy="203.2" r="1.95"/><circle cx="89.4" cy="185.7" r="1.95"/><circle cx="164.7" cy="182.0" r="1.95"/><circle cx="96.7" cy="193.2" r="1.95"/><circle cx="165.9" cy="191.2" r="1.95"/><circle cx="147.1" cy="193.4" r="1.95"/><circle cx="192.0" cy="211.9" r="1.95"/><circle cx="180.3" cy="197.5" r="1.95"/><circle cx="106.9" cy="179.9" r="1.95"/><circle cx="194.9" cy="191.7" r="1.95"/><circle cx="155.1" cy="200.9" r="1.95"/><circle cx="143.1" cy="199.5" r="1.95"/><circle cx="125.9" cy="185.9" r="1.95"/><circle cx="97.6" cy="191.3" r="1.95"/><circle cx="147.6" cy="189.8" r="1.95"/><circle cx="167.6" cy="183.3" r="1.95"/><circle cx="135.0" cy="195.9" r="1.95"/><circle cx="140.5" cy="189.8" r="1.95"/><circle cx="182.5" cy="194.6" r="1.95"/><circle cx="147.6" cy="197.4" r="1.95"/><circle cx="99.2" cy="189.6" r="1.95"/><circle cx="95.8" cy="212.2" r="1.95"/><circle cx="166.0" cy="188.0" r="1.95"/><circle cx="198.4" cy="198.3" r="1.95"/><circle cx="106.1" cy="194.5" r="1.95"/><circle cx="147.1" cy="197.6" r="1.95"/><circle cx="179.3" cy="211.1" r="1.95"/><circle cx="159.9" cy="185.5" r="1.95"/></g>
<polyline points="57.0,186.2 64.2,186.6 71.3,187.1 78.5,187.4 85.6,187.8 92.8,188.1 99.9,188.5 107.0,188.7 114.2,189.0 121.4,189.2 128.5,189.4 135.7,189.6 142.8,189.8 149.9,189.9 157.1,190.0 164.2,190.1 171.4,190.2 178.6,190.2 185.7,190.2 192.8,190.2 200.0,190.2" fill="none" stroke="#222" stroke-width="1" stroke-dasharray="3,1.5"/>
<polyline points="57.0,193.8 64.2,193.7 71.3,193.6 78.5,193.5 85.6,193.4 92.8,193.4 99.9,193.3 107.0,193.4 114.2,193.4 121.4,193.5 128.5,193.6 135.7,193.7 142.8,193.8 149.9,194.0 157.1,194.2 164.2,194.4 171.4,194.6 178.6,194.9 185.7,195.1 192.8,195.5 200.0,195.8" fill="none" stroke="#222" stroke-width="1" stroke-dasharray="3,1.5"/>
<line x1="57.00" y1="190.90" x2="200.00" y2="193.90" stroke="#c8d0e0" stroke-width="0.7"/>
<line x1="57.00" y1="190.00" x2="200.00" y2="193.00" stroke="#1e2b50" stroke-width="1.1"/>
<line x1="41.70" y1="149.30" x2="41.70" y2="262.70" stroke="#111" stroke-width="1.3"/>
<line x1="38.70" y1="152.70" x2="41.70" y2="152.70" stroke="#111" stroke-width="1.1"/>
<text x="34.80" y="155.55" font-size="7.9" text-anchor="end" fill="#2a2a2a" stroke="#2a2a2a">1000</text>
<line x1="38.70" y1="188.30" x2="41.70" y2="188.30" stroke="#111" stroke-width="1.1"/>
<text x="34.80" y="191.15" font-size="7.9" text-anchor="end" fill="#2a2a2a" stroke="#2a2a2a">100</text>
<line x1="38.70" y1="224.00" x2="41.70" y2="224.00" stroke="#111" stroke-width="1.1"/>
<text x="34.80" y="226.85" font-size="7.9" text-anchor="end" fill="#2a2a2a" stroke="#2a2a2a">10</text>
<line x1="38.70" y1="259.70" x2="41.70" y2="259.70" stroke="#111" stroke-width="1.1"/>
<text x="34.80" y="262.55" font-size="7.9" text-anchor="end" fill="#2a2a2a" stroke="#2a2a2a">1</text>
<line x1="41.70" y1="259.70" x2="205.60" y2="259.70" stroke="#111" stroke-width="1.3"/>
<line x1="41.70" y1="259.70" x2="41.70" y2="262.70" stroke="#111" stroke-width="1.1"/>
<text x="41.70" y="273.40" font-size="8.0" text-anchor="middle" fill="#2a2a2a" stroke="#2a2a2a">0</text>
<line x1="73.86" y1="259.70" x2="73.86" y2="262.70" stroke="#111" stroke-width="1.1"/>
<text x="73.86" y="273.40" font-size="8.0" text-anchor="middle" fill="#2a2a2a" stroke="#2a2a2a">20</text>
<line x1="106.02" y1="259.70" x2="106.02" y2="262.70" stroke="#111" stroke-width="1.1"/>
<text x="106.02" y="273.40" font-size="8.0" text-anchor="middle" fill="#2a2a2a" stroke="#2a2a2a">40</text>
<line x1="138.18" y1="259.70" x2="138.18" y2="262.70" stroke="#111" stroke-width="1.1"/>
<text x="138.18" y="273.40" font-size="8.0" text-anchor="middle" fill="#2a2a2a" stroke="#2a2a2a">60</text>
<line x1="170.34" y1="259.70" x2="170.34" y2="262.70" stroke="#111" stroke-width="1.1"/>
<text x="170.34" y="273.40" font-size="8.0" text-anchor="middle" fill="#2a2a2a" stroke="#2a2a2a">80</text>
<line x1="202.50" y1="259.70" x2="202.50" y2="262.70" stroke="#111" stroke-width="1.1"/>
<text x="202.50" y="273.40" font-size="8.0" text-anchor="middle" fill="#2a2a2a" stroke="#2a2a2a">100</text>
<text x="48.80" y="256.40" font-size="7.6" text-anchor="start" fill="#333" stroke="#333">ρ=-0.02, P=0.75</text>
<text x="11.00" y="206.20" font-size="9.3" text-anchor="middle" fill="#222" stroke="#222" transform="rotate(-90 11.00 206.20)">Plt [G/l]</text>
<g fill="#000"><circle cx="75.6" cy="303.6" r="1.95"/><circle cx="83.0" cy="303.6" r="1.95"/><circle cx="91.2" cy="300.6" r="1.95"/><circle cx="91.9" cy="296.9" r="1.95"/><circle cx="68.9" cy="310.3" r="1.95"/><circle cx="89.7" cy="308.8" r="1.95"/><circle cx="91.9" cy="311.8" r="1.95"/><circle cx="58.5" cy="319.2" r="1.95"/><circle cx="60.0" cy="320.7" r="1.95"/><circle cx="81.5" cy="319.2" r="1.95"/><circle cx="72.6" cy="322.2" r="1.95"/><circle cx="67.4" cy="325.2" r="1.95"/><circle cx="68.9" cy="325.2" r="1.95"/><circle cx="89.7" cy="322.9" r="1.95"/><circle cx="91.2" cy="325.9" r="1.95"/><circle cx="81.5" cy="326.6" r="1.95"/><circle cx="89.7" cy="328.1" r="1.95"/><circle cx="64.4" cy="329.6" r="1.95"/><circle cx="70.4" cy="330.4" r="1.95"/><circle cx="57.7" cy="332.6" r="1.95"/><circle cx="64.4" cy="334.1" r="1.95"/><circle cx="68.9" cy="334.1" r="1.95"/><circle cx="86.7" cy="335.6" r="1.95"/><circle cx="67.4" cy="337.8" r="1.95"/><circle cx="80.0" cy="346.0" r="1.95"/><circle cx="91.2" cy="345.2" r="1.95"/><circle cx="64.4" cy="346.7" r="1.95"/><circle cx="70.4" cy="349.0" r="1.95"/><circle cx="60.7" cy="351.2" r="1.95"/><circle cx="86.7" cy="352.7" r="1.95"/><circle cx="92.7" cy="351.2" r="1.95"/><circle cx="74.1" cy="354.9" r="1.95"/><circle cx="76.3" cy="317.0" r="1.95"/><circle cx="60.0" cy="317.7" r="1.95"/><circle cx="94.2" cy="293.9" r="1.95"/><circle cx="93.5" cy="296.9" r="1.95"/><circle cx="92.7" cy="300.6" r="1.95"/><circle cx="106.1" cy="301.3" r="1.95"/><circle cx="109.1" cy="300.6" r="1.95"/><circle cx="120.3" cy="298.4" r="1.95"/><circle cx="122.5" cy="301.3" r="1.95"/><circle cx="124.7" cy="306.6" r="1.95"/><circle cx="127.7" cy="304.3" r="1.95"/><circle cx="95.7" cy="308.8" r="1.95"/><circle cx="98.0" cy="310.3" r="1.95"/><circle cx="121.8" cy="309.5" r="1.95"/><circle cx="127.0" cy="308.8" r="1.95"/><circle cx="93.5" cy="312.5" r="1.95"/><circle cx="109.9" cy="314.0" r="1.95"/><circle cx="115.1" cy="314.0" r="1.95"/><circle cx="127.7" cy="313.3" r="1.95"/><circle cx="120.3" cy="314.7" r="1.95"/><circle cx="96.5" cy="318.5" r="1.95"/><circle cx="99.4" cy="319.2" r="1.95"/><circle cx="110.6" cy="317.7" r="1.95"/><circle cx="114.3" cy="319.9" r="1.95"/><circle cx="118.8" cy="320.7" r="1.95"/><circle cx="124.0" cy="319.9" r="1.95"/><circle cx="127.7" cy="321.4" r="1.95"/><circle cx="97.2" cy="323.7" r="1.95"/><circle cx="117.3" cy="324.4" r="1.95"/><circle cx="125.5" cy="323.7" r="1.95"/><circle cx="129.9" cy="325.2" r="1.95"/><circle cx="93.5" cy="327.4" r="1.95"/><circle cx="109.1" cy="325.2" r="1.95"/><circle cx="99.4" cy="329.6" r="1.95"/><circle cx="103.2" cy="331.1" r="1.95"/><circle cx="110.6" cy="329.6" r="1.95"/><circle cx="120.3" cy="328.1" r="1.95"/><circle cx="128.5" cy="328.1" r="1.95"/><circle cx="98.0" cy="334.8" r="1.95"/><circle cx="115.8" cy="334.1" r="1.95"/><circle cx="119.5" cy="333.3" r="1.95"/><circle cx="121.0" cy="337.1" r="1.95"/><circle cx="97.2" cy="337.1" r="1.95"/><circle cx="114.3" cy="337.8" r="1.95"/><circle cx="124.0" cy="338.5" r="1.95"/><circle cx="127.7" cy="338.5" r="1.95"/><circle cx="100.9" cy="340.8" r="1.95"/><circle cx="111.3" cy="340.0" r="1.95"/><circle cx="126.2" cy="341.5" r="1.95"/><circle cx="118.8" cy="343.0" r="1.95"/><circle cx="129.9" cy="343.0" r="1.95"/><circle cx="92.7" cy="347.5" r="1.95"/><circle cx="105.4" cy="348.2" r="1.95"/><circle cx="125.5" cy="347.5" r="1.95"/><circle cx="127.0" cy="349.7" r="1.95"/><circle cx="93.5" cy="350.5" r="1.95"/><circle cx="113.6" cy="351.2" r="1.95"/><circle cx="115.1" cy="352.0" r="1.95"/><circle cx="124.7" cy="355.7" r="1.95"/><circle cx="100.2" cy="360.1" r="1.95"/><circle cx="98.7" cy="362.4" r="1.95"/><circle cx="109.1" cy="363.8" r="1.95"/><circle cx="127.7" cy="362.4" r="1.95"/><circle cx="124.7" cy="363.8" r="1.95"/><circle cx="118.8" cy="365.3" r="1.95"/><circle cx="95.7" cy="368.0" r="1.95"/><circle cx="106.9" cy="369.8" r="1.95"/><circle cx="142.6" cy="292.7" r="1.95"/><circle cx="155.3" cy="291.7" r="1.95"/><circle cx="169.4" cy="297.6" r="1.95"/><circle cx="142.6" cy="300.6" r="1.95"/><circle cx="136.0" cy="305.8" r="1.95"/><circle cx="132.2" cy="307.3" r="1.95"/><circle cx="149.3" cy="306.6" r="1.95"/><circle cx="158.3" cy="305.8" r="1.95"/><circle cx="156.0" cy="310.3" r="1.95"/><circle cx="134.5" cy="312.5" r="1.95"/><circle cx="136.0" cy="314.0" r="1.95"/><circle cx="153.1" cy="312.5" r="1.95"/><circle cx="147.1" cy="317.0" r="1.95"/><circle cx="157.5" cy="315.5" r="1.95"/><circle cx="162.0" cy="317.0" r="1.95"/><circle cx="165.7" cy="318.5" r="1.95"/><circle cx="130.7" cy="318.5" r="1.95"/><circle cx="138.9" cy="319.2" r="1.95"/><circle cx="142.6" cy="323.7" r="1.95"/><circle cx="152.3" cy="321.4" r="1.95"/><circle cx="157.5" cy="323.7" r="1.95"/><circle cx="163.5" cy="324.4" r="1.95"/><circle cx="146.4" cy="325.9" r="1.95"/><circle cx="131.5" cy="328.9" r="1.95"/><circle cx="137.4" cy="329.6" r="1.95"/><circle cx="143.4" cy="329.6" r="1.95"/><circle cx="153.8" cy="328.9" r="1.95"/><circle cx="159.0" cy="329.6" r="1.95"/><circle cx="165.0" cy="328.1" r="1.95"/><circle cx="143.4" cy="332.6" r="1.95"/><circle cx="153.8" cy="332.6" r="1.95"/><circle cx="147.1" cy="334.8" r="1.95"/><circle cx="162.0" cy="334.1" r="1.95"/><circle cx="141.2" cy="337.1" r="1.95"/><circle cx="153.8" cy="337.1" r="1.95"/><circle cx="158.3" cy="336.3" r="1.95"/><circle cx="134.5" cy="340.0" r="1.95"/><circle cx="137.4" cy="340.0" r="1.95"/><circle cx="146.4" cy="339.3" r="1.95"/><circle cx="149.3" cy="340.8" r="1.95"/><circle cx="159.8" cy="340.0" r="1.95"/><circle cx="166.5" cy="340.8" r="1.95"/><circle cx="131.5" cy="343.8" r="1.95"/><circle cx="161.3" cy="343.0" r="1.95"/><circle cx="165.0" cy="346.0" r="1.95"/><circle cx="144.1" cy="346.7" r="1.95"/><circle cx="149.3" cy="349.7" r="1.95"/><circle cx="137.4" cy="351.2" r="1.95"/><circle cx="142.6" cy="350.5" r="1.95"/><circle cx="156.8" cy="350.5" r="1.95"/><circle cx="160.5" cy="352.0" r="1.95"/><circle cx="165.0" cy="352.0" r="1.95"/><circle cx="146.4" cy="353.4" r="1.95"/><circle cx="158.3" cy="358.6" r="1.95"/><circle cx="158.3" cy="360.9" r="1.95"/><circle cx="166.5" cy="363.1" r="1.95"/><circle cx="165.0" cy="366.8" r="1.95"/><circle cx="158.3" cy="368.3" r="1.95"/><circle cx="137.4" cy="375.0" r="1.95"/><circle cx="153.8" cy="375.0" r="1.95"/><circle cx="160.5" cy="383.2" r="1.95"/><circle cx="169.7" cy="296.9" r="1.95"/><circle cx="172.7" cy="297.6" r="1.95"/><circle cx="171.2" cy="299.9" r="1.95"/><circle cx="179.4" cy="303.6" r="1.95"/><circle cx="183.9" cy="307.3" r="1.95"/><circle cx="177.2" cy="308.8" r="1.95"/><circle cx="183.9" cy="309.5" r="1.95"/><circle cx="197.3" cy="311.0" r="1.95"/><circle cx="172.7" cy="313.3" r="1.95"/><circle cx="189.1" cy="312.5" r="1.95"/><circle cx="181.6" cy="314.0" r="1.95"/><circle cx="186.8" cy="315.5" r="1.95"/><circle cx="180.1" cy="317.7" r="1.95"/><circle cx="190.6" cy="317.7" r="1.95"/><circle cx="193.5" cy="318.5" r="1.95"/><circle cx="177.9" cy="320.7" r="1.95"/><circle cx="185.3" cy="321.4" r="1.95"/><circle cx="192.0" cy="321.4" r="1.95"/><circle cx="167.5" cy="323.7" r="1.95"/><circle cx="173.4" cy="325.2" r="1.95"/><circle cx="180.9" cy="325.9" r="1.95"/><circle cx="186.8" cy="325.2" r="1.95"/><circle cx="192.8" cy="325.9" r="1.95"/><circle cx="198.0" cy="329.6" r="1.95"/><circle cx="169.7" cy="328.9" r="1.95"/><circle cx="175.7" cy="330.4" r="1.95"/><circle cx="182.4" cy="329.6" r="1.95"/><circle cx="189.8" cy="329.6" r="1.95"/><circle cx="167.5" cy="333.3" r="1.95"/><circle cx="172.7" cy="334.1" r="1.95"/><circle cx="180.9" cy="334.1" r="1.95"/><circle cx="185.3" cy="333.3" r="1.95"/><circle cx="192.0" cy="334.1" r="1.95"/><circle cx="170.5" cy="337.8" r="1.95"/><circle cx="183.9" cy="337.1" r="1.95"/><circle cx="188.3" cy="337.8" r="1.95"/><circle cx="192.0" cy="340.0" r="1.95"/><circle cx="197.3" cy="342.3" r="1.95"/><circle cx="172.7" cy="340.8" r="1.95"/><circle cx="176.4" cy="341.5" r="1.95"/><circle cx="182.4" cy="343.0" r="1.95"/><circle cx="186.1" cy="344.5" r="1.95"/><circle cx="192.8" cy="346.0" r="1.95"/><circle cx="172.7" cy="347.5" r="1.95"/><circle cx="180.1" cy="348.2" r="1.95"/><circle cx="185.3" cy="350.5" r="1.95"/><circle cx="189.1" cy="351.2" r="1.95"/><circle cx="179.4" cy="352.0" r="1.95"/><circle cx="173.4" cy="354.2" r="1.95"/><circle cx="184.6" cy="353.4" r="1.95"/><circle cx="193.5" cy="354.9" r="1.95"/><circle cx="175.7" cy="359.4" r="1.95"/><circle cx="186.1" cy="359.4" r="1.95"/><circle cx="189.8" cy="356.4" r="1.95"/><circle cx="167.5" cy="363.1" r="1.95"/><circle cx="185.3" cy="363.1" r="1.95"/><circle cx="174.2" cy="366.8" r="1.95"/><circle cx="179.4" cy="368.3" r="1.95"/><circle cx="172.7" cy="370.5" r="1.95"/><circle cx="193.5" cy="369.8" r="1.95"/><circle cx="189.1" cy="375.0" r="1.95"/><circle cx="174.9" cy="378.0" r="1.95"/><circle cx="150.1" cy="334.0" r="1.95"/><circle cx="192.0" cy="350.9" r="1.95"/><circle cx="128.2" cy="326.9" r="1.95"/><circle cx="115.1" cy="323.6" r="1.95"/><circle cx="174.8" cy="329.4" r="1.95"/><circle cx="179.6" cy="305.0" r="1.95"/><circle cx="140.8" cy="308.5" r="1.95"/><circle cx="157.7" cy="330.2" r="1.95"/><circle cx="183.9" cy="344.5" r="1.95"/><circle cx="130.8" cy="312.1" r="1.95"/><circle cx="164.5" cy="327.8" r="1.95"/><circle cx="152.4" cy="343.2" r="1.95"/><circle cx="132.6" cy="312.5" r="1.95"/><circle cx="196.7" cy="316.4" r="1.95"/><circle cx="184.4" cy="305.0" r="1.95"/><circle cx="141.6" cy="336.4" r="1.95"/><circle cx="189.2" cy="334.0" r="1.95"/><circle cx="118.2" cy="309.1" r="1.95"/><circle cx="144.8" cy="343.1" r="1.95"/><circle cx="151.9" cy="322.1" r="1.95"/><circle cx="131.2" cy="323.8" r="1.95"/><circle cx="137.7" cy="334.3" r="1.95"/><circle cx="185.8" cy="338.3" r="1.95"/><circle cx="176.9" cy="315.8" r="1.95"/><circle cx="175.8" cy="331.4" r="1.95"/><circle cx="104.0" cy="327.0" r="1.95"/><circle cx="194.2" cy="346.7" r="1.95"/><circle cx="168.1" cy="318.6" r="1.95"/><circle cx="111.1" cy="346.5" r="1.95"/><circle cx="183.8" cy="305.4" r="1.95"/><circle cx="99.8" cy="336.0" r="1.95"/><circle cx="166.3" cy="348.2" r="1.95"/><circle cx="195.6" cy="336.8" r="1.95"/><circle cx="191.8" cy="345.2" r="1.95"/><circle cx="178.2" cy="341.4" r="1.95"/><circle cx="79.8" cy="309.7" r="1.95"/><circle cx="113.2" cy="320.1" r="1.95"/><circle cx="120.4" cy="343.6" r="1.95"/><circle cx="134.1" cy="331.5" r="1.95"/><circle cx="171.2" cy="326.5" r="1.95"/><circle cx="188.2" cy="346.9" r="1.95"/><circle cx="172.2" cy="334.4" r="1.95"/><circle cx="96.5" cy="305.0" r="1.95"/><circle cx="191.0" cy="313.5" r="1.95"/><circle cx="155.3" cy="329.3" r="1.95"/><circle cx="175.9" cy="322.9" r="1.95"/><circle cx="137.9" cy="315.5" r="1.95"/><circle cx="138.7" cy="325.0" r="1.95"/><circle cx="182.0" cy="322.4" r="1.95"/><circle cx="185.0" cy="350.5" r="1.95"/><circle cx="197.7" cy="327.8" r="1.95"/><circle cx="139.6" cy="326.9" r="1.95"/><circle cx="76.2" cy="323.6" r="1.95"/><circle cx="149.6" cy="322.0" r="1.95"/><circle cx="189.5" cy="328.0" r="1.95"/><circle cx="155.3" cy="325.8" r="1.95"/><circle cx="95.7" cy="327.9" r="1.95"/><circle cx="156.0" cy="327.3" r="1.95"/><circle cx="187.5" cy="317.2" r="1.95"/><circle cx="186.5" cy="330.5" r="1.95"/><circle cx="157.6" cy="314.2" r="1.95"/><circle cx="106.0" cy="334.8" r="1.95"/><circle cx="195.2" cy="350.0" r="1.95"/><circle cx="62.5" cy="326.6" r="1.95"/><circle cx="170.5" cy="328.9" r="1.95"/><circle cx="115.6" cy="355.0" r="1.95"/><circle cx="182.9" cy="326.7" r="1.95"/><circle cx="88.9" cy="314.1" r="1.95"/><circle cx="168.1" cy="333.0" r="1.95"/><circle cx="177.5" cy="316.4" r="1.95"/><circle cx="63.1" cy="336.6" r="1.95"/><circle cx="188.8" cy="312.4" r="1.95"/><circle cx="179.3" cy="329.4" r="1.95"/><circle cx="122.6" cy="331.6" r="1.95"/><circle cx="144.7" cy="342.7" r="1.95"/><circle cx="173.0" cy="333.3" r="1.95"/><circle cx="172.6" cy="313.7" r="1.95"/><circle cx="154.4" cy="330.9" r="1.95"/><circle cx="141.9" cy="329.3" r="1.95"/><circle cx="191.2" cy="347.9" r="1.95"/><circle cx="174.8" cy="322.9" r="1.95"/><circle cx="83.1" cy="325.0" r="1.95"/><circle cx="194.0" cy="333.7" r="1.95"/><circle cx="166.6" cy="325.1" r="1.95"/><circle cx="141.6" cy="315.0" r="1.95"/><circle cx="137.7" cy="318.7" r="1.95"/><circle cx="191.5" cy="329.7" r="1.95"/><circle cx="172.1" cy="327.8" r="1.95"/><circle cx="111.1" cy="316.0" r="1.95"/><circle cx="151.6" cy="325.1" r="1.95"/><circle cx="179.1" cy="328.9" r="1.95"/><circle cx="86.3" cy="305.0" r="1.95"/><circle cx="159.4" cy="308.6" r="1.95"/><circle cx="136.6" cy="305.0" r="1.95"/><circle cx="159.4" cy="306.2" r="1.95"/><circle cx="122.8" cy="330.6" r="1.95"/><circle cx="117.6" cy="329.5" r="1.95"/><circle cx="163.5" cy="305.0" r="1.95"/><circle cx="128.9" cy="336.6" r="1.95"/><circle cx="106.7" cy="340.2" r="1.95"/><circle cx="179.5" cy="328.1" r="1.95"/><circle cx="157.2" cy="332.5" r="1.95"/><circle cx="98.4" cy="332.7" r="1.95"/><circle cx="126.0" cy="320.0" r="1.95"/><circle cx="197.3" cy="347.0" r="1.95"/><circle cx="135.5" cy="316.1" r="1.95"/><circle cx="142.9" cy="322.5" r="1.95"/><circle cx="187.7" cy="305.0" r="1.95"/><circle cx="143.8" cy="337.3" r="1.95"/><circle cx="196.1" cy="319.6" r="1.95"/></g>
<polyline points="57.0,310.9 64.0,311.7 71.1,312.6 78.2,313.3 85.2,314.1 92.2,314.8 99.3,315.5 106.3,316.2 113.4,316.8 120.5,317.4 127.5,318.0 134.6,318.6 141.6,319.1 148.7,319.6 155.7,320.1 162.8,320.5 169.8,320.9 176.8,321.3 183.9,321.7 190.9,322.0 198.0,322.3" fill="none" stroke="#222" stroke-width="1" stroke-dasharray="3,1.5"/>
<polyline points="57.0,318.9 64.0,319.1 71.1,319.4 78.2,319.7 85.2,320.0 92.2,320.3 99.3,320.7 106.3,321.1 113.4,321.5 120.5,322.0 127.5,322.5 134.6,323.0 141.6,323.5 148.7,324.1 155.7,324.7 162.8,325.3 169.8,326.0 176.8,326.7 183.9,327.4 190.9,328.1 198.0,328.9" fill="none" stroke="#222" stroke-width="1" stroke-dasharray="3,1.5"/>
<line x1="57.00" y1="315.80" x2="198.00" y2="326.50" stroke="#c8d0e0" stroke-width="0.7"/>
<line x1="57.00" y1="314.90" x2="198.00" y2="325.60" stroke="#1e2b50" stroke-width="1.1"/>
<line x1="41.70" y1="281.30" x2="41.70" y2="394.00" stroke="#111" stroke-width="1.3"/>
<line x1="38.70" y1="284.00" x2="41.70" y2="284.00" stroke="#111" stroke-width="1.1"/>
<text x="34.80" y="286.85" font-size="7.9" text-anchor="end" fill="#2a2a2a" stroke="#2a2a2a">100</text>
<line x1="38.70" y1="310.80" x2="41.70" y2="310.80" stroke="#111" stroke-width="1.1"/>
<text x="34.80" y="313.65" font-size="7.9" text-anchor="end" fill="#2a2a2a" stroke="#2a2a2a">10</text>
<line x1="38.70" y1="337.70" x2="41.70" y2="337.70" stroke="#111" stroke-width="1.1"/>
<text x="34.80" y="340.55" font-size="7.9" text-anchor="end" fill="#2a2a2a" stroke="#2a2a2a">1</text>
<line x1="38.70" y1="364.40" x2="41.70" y2="364.40" stroke="#111" stroke-width="1.1"/>
<text x="34.80" y="367.25" font-size="7.9" text-anchor="end" fill="#2a2a2a" stroke="#2a2a2a">0.1</text>
<line x1="38.70" y1="391.00" x2="41.70" y2="391.00" stroke="#111" stroke-width="1.1"/>
<text x="34.80" y="393.85" font-size="7.9" text-anchor="end" fill="#2a2a2a" stroke="#2a2a2a">0.01</text>
<line x1="41.70" y1="391.00" x2="205.60" y2="391.00" stroke="#111" stroke-width="1.3"/>
<line x1="41.70" y1="391.00" x2="41.70" y2="394.00" stroke="#111" stroke-width="1.1"/>
<text x="41.70" y="404.60" font-size="8.0" text-anchor="middle" fill="#2a2a2a" stroke="#2a2a2a">0</text>
<line x1="73.86" y1="391.00" x2="73.86" y2="394.00" stroke="#111" stroke-width="1.1"/>
<text x="73.86" y="404.60" font-size="8.0" text-anchor="middle" fill="#2a2a2a" stroke="#2a2a2a">20</text>
<line x1="106.02" y1="391.00" x2="106.02" y2="394.00" stroke="#111" stroke-width="1.1"/>
<text x="106.02" y="404.60" font-size="8.0" text-anchor="middle" fill="#2a2a2a" stroke="#2a2a2a">40</text>
<line x1="138.18" y1="391.00" x2="138.18" y2="394.00" stroke="#111" stroke-width="1.1"/>
<text x="138.18" y="404.60" font-size="8.0" text-anchor="middle" fill="#2a2a2a" stroke="#2a2a2a">60</text>
<line x1="170.34" y1="391.00" x2="170.34" y2="394.00" stroke="#111" stroke-width="1.1"/>
<text x="170.34" y="404.60" font-size="8.0" text-anchor="middle" fill="#2a2a2a" stroke="#2a2a2a">80</text>
<line x1="202.50" y1="391.00" x2="202.50" y2="394.00" stroke="#111" stroke-width="1.1"/>
<text x="202.50" y="404.60" font-size="8.0" text-anchor="middle" fill="#2a2a2a" stroke="#2a2a2a">100</text>
<text x="48.80" y="387.70" font-size="7.6" text-anchor="start" fill="#333" stroke="#333">ρ=-0.15, P=0.01</text>
<text x="13.00" y="337.80" font-size="9.3" text-anchor="middle" fill="#222" stroke="#222" transform="rotate(-90 13.00 337.80)">ANC [G/l]</text>
<text x="73.00" y="421.30" font-size="10" text-anchor="start" fill="#222" stroke="#222" textLength="97" lengthAdjust="spacingAndGlyphs">BM infiltration grade [%]</text>
<text x="230.30" y="15.60" font-size="14.8" text-anchor="start" fill="#000" stroke="#000" font-weight="bold" textLength="9.82" lengthAdjust="spacingAndGlyphs">B</text>
<line x1="282.20" y1="27.90" x2="497.50" y2="27.90" stroke="#111" stroke-width="1.3"/>
<line x1="497.50" y1="27.90" x2="497.50" y2="233.00" stroke="#111" stroke-width="1.3"/>
<line x1="282.20" y1="27.90" x2="282.20" y2="233.00" stroke="#111" stroke-width="1.3"/>
<line x1="282.20" y1="233.00" x2="497.50" y2="233.00" stroke="#111" stroke-width="1.3"/>
<line x1="279.20" y1="28.00" x2="282.20" y2="28.00" stroke="#111" stroke-width="1.1"/>
<text x="275.60" y="30.50" font-size="8.0" text-anchor="end" fill="#2a2a2a" stroke="#2a2a2a">0.6</text>
<line x1="279.20" y1="57.70" x2="282.20" y2="57.70" stroke="#111" stroke-width="1.1"/>
<text x="275.60" y="60.20" font-size="8.0" text-anchor="end" fill="#2a2a2a" stroke="#2a2a2a">0.4</text>
<line x1="279.20" y1="87.40" x2="282.20" y2="87.40" stroke="#111" stroke-width="1.1"/>
<text x="275.60" y="89.90" font-size="8.0" text-anchor="end" fill="#2a2a2a" stroke="#2a2a2a">0.2</text>
<line x1="279.20" y1="117.10" x2="282.20" y2="117.10" stroke="#111" stroke-width="1.1"/>
<text x="275.60" y="119.60" font-size="8.0" text-anchor="end" fill="#2a2a2a" stroke="#2a2a2a">0.0</text>
<line x1="282.20" y1="117.20" x2="497.50" y2="117.20" stroke="#9a9a9a" stroke-width="1.1"/>
<line x1="282.20" y1="126.60" x2="497.50" y2="126.60" stroke="#9a9a9a" stroke-width="1.1"/>
<line x1="282.20" y1="167.80" x2="497.50" y2="167.80" stroke="#9a9a9a" stroke-width="1.1"/>
<line x1="284.00" y1="127.20" x2="284.00" y2="159.60" stroke="#555" stroke-width="0.9"/>
<line x1="294.80" y1="127.20" x2="294.80" y2="159.60" stroke="#555" stroke-width="0.9"/>
<line x1="298.10" y1="127.20" x2="298.10" y2="159.60" stroke="#555" stroke-width="0.9"/>
<line x1="311.40" y1="127.20" x2="311.40" y2="159.60" stroke="#555" stroke-width="0.9"/>
<line x1="325.20" y1="127.20" x2="325.20" y2="159.60" stroke="#555" stroke-width="0.9"/>
<line x1="337.60" y1="127.20" x2="337.60" y2="159.60" stroke="#555" stroke-width="0.9"/>
<line x1="338.40" y1="127.20" x2="338.40" y2="159.60" stroke="#555" stroke-width="0.9"/>
<line x1="342.50" y1="127.20" x2="342.50" y2="159.60" stroke="#555" stroke-width="0.9"/>
<line x1="348.50" y1="127.20" x2="348.50" y2="159.60" stroke="#555" stroke-width="0.9"/>
<line x1="359.80" y1="127.20" x2="359.80" y2="159.60" stroke="#555" stroke-width="0.9"/>
<line x1="362.70" y1="127.20" x2="362.70" y2="159.60" stroke="#555" stroke-width="0.9"/>
<line x1="368.50" y1="127.20" x2="368.50" y2="159.60" stroke="#555" stroke-width="0.9"/>
<line x1="404.10" y1="127.20" x2="404.10" y2="159.60" stroke="#555" stroke-width="0.9"/>
<line x1="438.50" y1="127.20" x2="438.50" y2="159.60" stroke="#555" stroke-width="0.9"/>
<line x1="439.80" y1="127.20" x2="439.80" y2="159.60" stroke="#555" stroke-width="0.9"/>
<line x1="441.40" y1="127.20" x2="441.40" y2="159.60" stroke="#555" stroke-width="0.9"/>
<line x1="444.20" y1="127.20" x2="444.20" y2="159.60" stroke="#555" stroke-width="0.9"/>
<line x1="445.20" y1="127.20" x2="445.20" y2="159.60" stroke="#555" stroke-width="0.9"/>
<line x1="453.60" y1="127.20" x2="453.60" y2="159.60" stroke="#555" stroke-width="0.9"/>
<line x1="478.10" y1="127.20" x2="478.10" y2="159.60" stroke="#555" stroke-width="0.9"/>
<rect x="283.00" y="159.60" width="15.00" height="8.00" fill="#dc4f5a"/>
<rect x="298.00" y="159.60" width="21.00" height="8.00" fill="#de5863"/>
<rect x="319.00" y="159.60" width="17.00" height="8.00" fill="#e16672"/>
<rect x="336.00" y="159.60" width="19.50" height="8.00" fill="#e67b82"/>
<rect x="355.50" y="159.60" width="37.50" height="8.00" fill="#eeb2e6"/>
<rect x="393.00" y="159.60" width="5.00" height="8.00" fill="#e4c4f2"/>
<rect x="398.00" y="159.60" width="29.00" height="8.00" fill="#d8d8fb"/>
<rect x="427.00" y="159.60" width="15.00" height="8.00" fill="#c2c2f6"/>
<rect x="442.00" y="159.60" width="5.00" height="8.00" fill="#9a9af1"/>
<rect x="447.00" y="159.60" width="8.00" height="8.00" fill="#8383ee"/>
<rect x="455.00" y="159.60" width="26.70" height="8.00" fill="#5a5ae2"/>
<rect x="481.70" y="159.60" width="5.30" height="8.00" fill="#1414b4"/>
<polyline points="283.0,80.5 284.6,79.0 284.9,57.3 295.0,65.4 295.4,55.6 297.3,57.9 298.3,40.6 309.8,49.2 310.3,43.5 311.4,44.3 312.3,32.5 325.0,42.3 325.4,38.8 337.6,47.9 338.0,46.0 338.5,46.2 339.0,45.2 342.0,48.0 342.6,44.0 348.2,47.9 348.7,45.8 359.5,53.6 359.9,52.3 362.5,54.3 362.9,53.2 368.4,57.6 368.9,57.0 371.3,59.2 395.0,77.4 438.1,109.0 438.6,105.8 439.7,106.8 440.1,105.0 441.3,106.3 441.7,104.2 444.0,105.8 444.4,103.3 445.0,103.8 445.4,101.9 453.3,107.9 453.8,104.6 478.3,122.0 478.8,111.5 486.4,117.3" fill="none" stroke="#639840" stroke-width="1.35" stroke-linejoin="miter"/>
<line x1="298.70" y1="111.30" x2="287.00" y2="122.60" stroke="#000" stroke-width="1.4"/>
<polygon points="282.6,127.2 285.4,117.2 293.4,124.2" fill="#000"/>
<line x1="279.20" y1="179.70" x2="282.20" y2="179.70" stroke="#111" stroke-width="1.1"/>
<text x="275.80" y="182.20" font-size="8.0" text-anchor="end" fill="#2a2a2a" stroke="#2a2a2a">0.25</text>
<line x1="279.20" y1="195.40" x2="282.20" y2="195.40" stroke="#111" stroke-width="1.1"/>
<text x="275.80" y="197.90" font-size="8.0" text-anchor="end" fill="#2a2a2a" stroke="#2a2a2a">0.00</text>
<line x1="279.20" y1="210.90" x2="282.20" y2="210.90" stroke="#111" stroke-width="1.1"/>
<text x="275.80" y="213.40" font-size="8.0" text-anchor="end" fill="#2a2a2a" stroke="#2a2a2a">-0.25</text>
<line x1="279.20" y1="226.50" x2="282.20" y2="226.50" stroke="#111" stroke-width="1.1"/>
<text x="275.80" y="229.00" font-size="8.0" text-anchor="end" fill="#2a2a2a" stroke="#2a2a2a">-0.50</text>
<polygon points="283.0,195.4 283.0,178.5 284.0,183.0 285.0,185.5 287.0,188.0 290.0,190.0 294.0,191.5 300.0,192.6 310.0,193.5 330.0,194.3 350.0,194.8 370.0,195.2 385.0,195.4" fill="#7a7a7a"/>
<polygon points="385.0,195.4 400.0,195.8 420.0,196.4 440.0,197.1 455.0,197.8 468.0,198.7 476.0,200.0 480.0,202.0 483.0,205.5 485.0,211.0 486.0,220.0 486.5,231.5 486.8,231.5 486.8,195.4" fill="#7a7a7a"/>
<line x1="282.20" y1="195.40" x2="486.80" y2="195.40" stroke="#555" stroke-width="0.8"/>
<line x1="385.20" y1="168.30" x2="385.20" y2="233.00" stroke="#777" stroke-width="0.8" stroke-dasharray="1,1"/>
<text x="353.00" y="203.30" font-size="6.7" text-anchor="start" fill="#111" stroke="#111" textLength="59.3" lengthAdjust="spacingAndGlyphs">Zero cross at 10274</text>
<text x="284.60" y="175.80" font-size="6.7" text-anchor="start" fill="#c0424f" stroke="#c0424f" textLength="96.2" lengthAdjust="spacingAndGlyphs">'TCPENIA' (positively correlated)</text>
<text x="392.50" y="229.80" font-size="6.7" text-anchor="start" fill="#3b3b8a" stroke="#3b3b8a" textLength="85" lengthAdjust="spacingAndGlyphs">'NON' (negatively correlated)</text>
<line x1="282.20" y1="233.00" x2="282.20" y2="236.00" stroke="#111" stroke-width="1.1"/>
<text x="282.20" y="246.60" font-size="8.0" text-anchor="middle" fill="#2a2a2a" stroke="#2a2a2a">0</text>
<line x1="332.00" y1="233.00" x2="332.00" y2="236.00" stroke="#111" stroke-width="1.1"/>
<text x="332.00" y="246.60" font-size="8.0" text-anchor="middle" fill="#2a2a2a" stroke="#2a2a2a">5000</text>
<line x1="381.60" y1="233.00" x2="381.60" y2="236.00" stroke="#111" stroke-width="1.1"/>
<text x="381.60" y="246.60" font-size="8.0" text-anchor="middle" fill="#2a2a2a" stroke="#2a2a2a">10,000</text>
<line x1="431.10" y1="233.00" x2="431.10" y2="236.00" stroke="#111" stroke-width="1.1"/>
<text x="431.10" y="246.60" font-size="8.0" text-anchor="middle" fill="#2a2a2a" stroke="#2a2a2a">15,000</text>
<line x1="480.60" y1="233.00" x2="480.60" y2="236.00" stroke="#111" stroke-width="1.1"/>
<text x="480.60" y="246.60" font-size="8.0" text-anchor="middle" fill="#2a2a2a" stroke="#2a2a2a">20,000</text>
<text x="245.40" y="72.30" font-size="9.0" text-anchor="middle" fill="#222" stroke="#222" transform="rotate(-90 245.40 72.30)" textLength="68.3" lengthAdjust="spacingAndGlyphs">Enrichment score</text>
<text x="259.60" y="72.30" font-size="9.0" text-anchor="middle" fill="#222" stroke="#222" transform="rotate(-90 259.60 72.30)">(ES)</text>
<text x="240.00" y="200.00" font-size="9.0" text-anchor="middle" fill="#222" stroke="#222" transform="rotate(-90 240.00 200.00)" textLength="66" lengthAdjust="spacingAndGlyphs">Ranked list metric</text>
<text x="251.40" y="201.50" font-size="9.0" text-anchor="middle" fill="#222" stroke="#222" transform="rotate(-90 251.40 201.50)" textLength="60" lengthAdjust="spacingAndGlyphs">(signal-to-noise)</text>
<text x="230.50" y="263.90" font-size="14.8" text-anchor="start" fill="#000" stroke="#000" font-weight="bold" textLength="9.82" lengthAdjust="spacingAndGlyphs">C</text>
<line x1="263.80" y1="271.30" x2="263.80" y2="390.50" stroke="#111" stroke-width="1.2"/>
<line x1="263.20" y1="390.50" x2="321.50" y2="390.50" stroke="#111" stroke-width="1.3"/>
<line x1="260.80" y1="274.50" x2="263.80" y2="274.50" stroke="#111" stroke-width="1.1"/>
<text x="257.80" y="276.70" font-size="7.8" text-anchor="end" fill="#2a2a2a" stroke="#2a2a2a">15</text>
<line x1="260.80" y1="313.20" x2="263.80" y2="313.20" stroke="#111" stroke-width="1.1"/>
<text x="257.80" y="315.40" font-size="7.8" text-anchor="end" fill="#2a2a2a" stroke="#2a2a2a">10</text>
<line x1="260.80" y1="352.30" x2="263.80" y2="352.30" stroke="#111" stroke-width="1.1"/>
<text x="257.80" y="354.50" font-size="7.8" text-anchor="end" fill="#2a2a2a" stroke="#2a2a2a">5</text>
<line x1="260.80" y1="390.50" x2="263.80" y2="390.50" stroke="#111" stroke-width="1.1"/>
<text x="257.80" y="392.70" font-size="7.8" text-anchor="end" fill="#2a2a2a" stroke="#2a2a2a">0</text>
<rect x="268.80" y="319.20" width="19.20" height="71.30" fill="#000"/>
<line x1="278.40" y1="305.50" x2="278.40" y2="319.70" stroke="#111" stroke-width="1.2"/>
<line x1="273.60" y1="305.50" x2="283.20" y2="305.50" stroke="#111" stroke-width="1.4"/>
<rect x="297.70" y="318.30" width="19.20" height="72.20" fill="#000"/>
<line x1="307.30" y1="304.40" x2="307.30" y2="318.80" stroke="#111" stroke-width="1.2"/>
<line x1="302.50" y1="304.40" x2="312.10" y2="304.40" stroke="#111" stroke-width="1.4"/>
<text x="314.00" y="282.60" font-size="7.6" text-anchor="middle" fill="#222" stroke="#222">ns</text>
<text x="242.20" y="332.50" font-size="9.0" text-anchor="middle" fill="#222" stroke="#222" transform="rotate(-90 242.20 332.50)">Hb [g/l]</text>
<text x="279.50" y="402.80" font-size="8.4" text-anchor="middle" fill="#111" stroke="#111"><tspan font-style="italic">MPL</tspan><tspan font-size="5" dy="-3">lo</tspan></text>
<text x="308.00" y="402.80" font-size="8.4" text-anchor="middle" fill="#111" stroke="#111"><tspan font-style="italic">MPL</tspan><tspan font-size="5" dy="-3">hi</tspan></text>
<line x1="363.60" y1="270.80" x2="363.60" y2="390.30" stroke="#111" stroke-width="1.2"/>
<line x1="363.00" y1="390.30" x2="420.40" y2="390.30" stroke="#111" stroke-width="1.3"/>
<line x1="360.60" y1="274.20" x2="363.60" y2="274.20" stroke="#111" stroke-width="1.1"/>
<text x="357.60" y="276.40" font-size="7.8" text-anchor="end" fill="#2a2a2a" stroke="#2a2a2a">100</text>
<line x1="360.60" y1="297.40" x2="363.60" y2="297.40" stroke="#111" stroke-width="1.1"/>
<text x="357.60" y="299.60" font-size="7.8" text-anchor="end" fill="#2a2a2a" stroke="#2a2a2a">80</text>
<line x1="360.60" y1="320.60" x2="363.60" y2="320.60" stroke="#111" stroke-width="1.1"/>
<text x="357.60" y="322.80" font-size="7.8" text-anchor="end" fill="#2a2a2a" stroke="#2a2a2a">60</text>
<line x1="360.60" y1="344.00" x2="363.60" y2="344.00" stroke="#111" stroke-width="1.1"/>
<text x="357.60" y="346.20" font-size="7.8" text-anchor="end" fill="#2a2a2a" stroke="#2a2a2a">40</text>
<line x1="360.60" y1="367.10" x2="363.60" y2="367.10" stroke="#111" stroke-width="1.1"/>
<text x="357.60" y="369.30" font-size="7.8" text-anchor="end" fill="#2a2a2a" stroke="#2a2a2a">20</text>
<line x1="360.60" y1="390.30" x2="363.60" y2="390.30" stroke="#111" stroke-width="1.1"/>
<text x="357.60" y="392.50" font-size="7.8" text-anchor="end" fill="#2a2a2a" stroke="#2a2a2a">0</text>
<rect x="368.00" y="304.20" width="19.30" height="86.10" fill="#000"/>
<line x1="377.65" y1="296.50" x2="377.65" y2="304.70" stroke="#111" stroke-width="1.2"/>
<line x1="372.85" y1="296.50" x2="382.45" y2="296.50" stroke="#111" stroke-width="1.4"/>
<rect x="397.30" y="341.20" width="19.60" height="49.10" fill="#000"/>
<line x1="407.10" y1="327.70" x2="407.10" y2="341.70" stroke="#111" stroke-width="1.2"/>
<line x1="402.30" y1="327.70" x2="411.90" y2="327.70" stroke="#111" stroke-width="1.4"/>
<line x1="378.00" y1="284.40" x2="407.00" y2="284.40" stroke="#111" stroke-width="1.2"/>
<g fill="#111"><circle cx="387.05" cy="280.40" r="1.1"/><circle cx="390.95" cy="280.40" r="1.1"/><circle cx="394.85" cy="280.40" r="1.1"/><circle cx="398.75" cy="280.40" r="1.1"/></g>
<text x="340.40" y="332.10" font-size="9.0" text-anchor="middle" fill="#222" stroke="#222" transform="rotate(-90 340.40 332.10)">Plt [G/l]</text>
<text x="378.60" y="402.80" font-size="8.4" text-anchor="middle" fill="#111" stroke="#111"><tspan font-style="italic">MPL</tspan><tspan font-size="5" dy="-3">lo</tspan></text>
<text x="407.80" y="402.80" font-size="8.4" text-anchor="middle" fill="#111" stroke="#111"><tspan font-style="italic">MPL</tspan><tspan font-size="5" dy="-3">hi</tspan></text>
<line x1="454.60" y1="270.80" x2="454.60" y2="390.20" stroke="#111" stroke-width="1.2"/>
<line x1="454.00" y1="390.20" x2="510.40" y2="390.20" stroke="#111" stroke-width="1.3"/>
<line x1="451.60" y1="273.80" x2="454.60" y2="273.80" stroke="#111" stroke-width="1.1"/>
<text x="448.60" y="276.00" font-size="7.8" text-anchor="end" fill="#2a2a2a" stroke="#2a2a2a">6</text>
<line x1="451.60" y1="312.90" x2="454.60" y2="312.90" stroke="#111" stroke-width="1.1"/>
<text x="448.60" y="315.10" font-size="7.8" text-anchor="end" fill="#2a2a2a" stroke="#2a2a2a">4</text>
<line x1="451.60" y1="351.70" x2="454.60" y2="351.70" stroke="#111" stroke-width="1.1"/>
<text x="448.60" y="353.90" font-size="7.8" text-anchor="end" fill="#2a2a2a" stroke="#2a2a2a">2</text>
<line x1="451.60" y1="390.20" x2="454.60" y2="390.20" stroke="#111" stroke-width="1.1"/>
<text x="448.60" y="392.40" font-size="7.8" text-anchor="end" fill="#2a2a2a" stroke="#2a2a2a">0</text>
<rect x="459.40" y="303.80" width="19.30" height="86.40" fill="#000"/>
<line x1="469.05" y1="289.20" x2="469.05" y2="304.30" stroke="#111" stroke-width="1.2"/>
<line x1="464.25" y1="289.20" x2="473.85" y2="289.20" stroke="#111" stroke-width="1.4"/>
<rect x="488.30" y="346.50" width="19.60" height="43.70" fill="#000"/>
<line x1="498.10" y1="321.50" x2="498.10" y2="347.00" stroke="#111" stroke-width="1.2"/>
<line x1="493.30" y1="321.50" x2="502.90" y2="321.50" stroke="#111" stroke-width="1.4"/>
<line x1="469.60" y1="284.40" x2="497.90" y2="284.40" stroke="#111" stroke-width="1.2"/>
<g fill="#111"><circle cx="482.20" cy="280.40" r="1.1"/><circle cx="486.10" cy="280.40" r="1.1"/></g>
<text x="438.20" y="332.10" font-size="9.0" text-anchor="middle" fill="#222" stroke="#222" transform="rotate(-90 438.20 332.10)">ANC [G/l]</text>
<text x="470.00" y="402.80" font-size="8.4" text-anchor="middle" fill="#111" stroke="#111"><tspan font-style="italic">MPL</tspan><tspan font-size="5" dy="-3">lo</tspan></text>
<text x="499.00" y="402.80" font-size="8.4" text-anchor="middle" fill="#111" stroke="#111"><tspan font-style="italic">MPL</tspan><tspan font-size="5" dy="-3">hi</tspan></text>
<text x="4.10" y="439.60" font-size="14.8" text-anchor="start" fill="#000" stroke="#000" font-weight="bold" textLength="9.82" lengthAdjust="spacingAndGlyphs">D</text>
<line x1="41.80" y1="443.50" x2="41.80" y2="572.70" stroke="#111" stroke-width="1.2"/>
<line x1="41.20" y1="572.70" x2="199.50" y2="572.70" stroke="#111" stroke-width="1.3"/>
<line x1="38.80" y1="446.80" x2="41.80" y2="446.80" stroke="#111" stroke-width="1.1"/>
<text x="35.20" y="449.60" font-size="7.6" text-anchor="end" fill="#2a2a2a" stroke="#2a2a2a">5</text>
<line x1="38.80" y1="471.98" x2="41.80" y2="471.98" stroke="#111" stroke-width="1.1"/>
<text x="35.20" y="474.78" font-size="7.6" text-anchor="end" fill="#2a2a2a" stroke="#2a2a2a">4</text>
<line x1="38.80" y1="497.16" x2="41.80" y2="497.16" stroke="#111" stroke-width="1.1"/>
<text x="35.20" y="499.96" font-size="7.6" text-anchor="end" fill="#2a2a2a" stroke="#2a2a2a">3</text>
<line x1="38.80" y1="522.34" x2="41.80" y2="522.34" stroke="#111" stroke-width="1.1"/>
<text x="35.20" y="525.14" font-size="7.6" text-anchor="end" fill="#2a2a2a" stroke="#2a2a2a">2</text>
<line x1="38.80" y1="547.52" x2="41.80" y2="547.52" stroke="#111" stroke-width="1.1"/>
<text x="35.20" y="550.32" font-size="7.6" text-anchor="end" fill="#2a2a2a" stroke="#2a2a2a">1</text>
<line x1="38.80" y1="572.70" x2="41.80" y2="572.70" stroke="#111" stroke-width="1.1"/>
<text x="35.20" y="575.50" font-size="7.6" text-anchor="end" fill="#2a2a2a" stroke="#2a2a2a">0</text>
<rect x="45.20" y="486.10" width="13.00" height="86.60" fill="#000"/>
<line x1="51.70" y1="477.40" x2="51.70" y2="486.60" stroke="#111" stroke-width="1.2"/>
<line x1="48.40" y1="477.40" x2="55.00" y2="477.40" stroke="#111" stroke-width="1.4"/>
<rect x="64.90" y="539.20" width="13.10" height="33.50" fill="#000"/>
<line x1="71.45" y1="530.80" x2="71.45" y2="539.70" stroke="#111" stroke-width="1.2"/>
<line x1="68.15" y1="530.80" x2="74.75" y2="530.80" stroke="#111" stroke-width="1.4"/>
<rect x="84.30" y="547.40" width="13.10" height="25.30" fill="#000"/>
<line x1="90.85" y1="522.80" x2="90.85" y2="547.90" stroke="#111" stroke-width="1.2"/>
<line x1="87.55" y1="522.80" x2="94.15" y2="522.80" stroke="#111" stroke-width="1.4"/>
<rect x="104.20" y="535.10" width="12.70" height="37.60" fill="#000"/>
<line x1="110.55" y1="512.30" x2="110.55" y2="535.60" stroke="#111" stroke-width="1.2"/>
<line x1="107.25" y1="512.30" x2="113.85" y2="512.30" stroke="#111" stroke-width="1.4"/>
<rect x="123.80" y="519.70" width="12.80" height="53.00" fill="#000"/>
<line x1="130.20" y1="507.70" x2="130.20" y2="520.20" stroke="#111" stroke-width="1.2"/>
<line x1="126.90" y1="507.70" x2="133.50" y2="507.70" stroke="#111" stroke-width="1.4"/>
<rect x="143.00" y="524.40" width="13.10" height="48.30" fill="#000"/>
<line x1="149.55" y1="514.50" x2="149.55" y2="524.90" stroke="#111" stroke-width="1.2"/>
<line x1="146.25" y1="514.50" x2="152.85" y2="514.50" stroke="#111" stroke-width="1.4"/>
<rect x="163.00" y="562.00" width="12.90" height="10.70" fill="#000"/>
<line x1="169.45" y1="557.00" x2="169.45" y2="562.50" stroke="#111" stroke-width="1.2"/>
<line x1="166.15" y1="557.00" x2="172.75" y2="557.00" stroke="#111" stroke-width="1.4"/>
<rect x="182.70" y="538.20" width="13.10" height="34.50" fill="#000"/>
<line x1="189.25" y1="536.40" x2="189.25" y2="538.70" stroke="#111" stroke-width="1.2"/>
<line x1="185.95" y1="536.40" x2="192.55" y2="536.40" stroke="#111" stroke-width="1.4"/>
<text x="54.00" y="569.80" font-size="6.6" text-anchor="start" fill="#fff" stroke="#fff" font-weight="bold" transform="rotate(-90 54.00 569.80)" textLength="20.5" lengthAdjust="spacingAndGlyphs">t(8;21)</text>
<text x="73.75" y="569.80" font-size="6.6" text-anchor="start" fill="#fff" stroke="#fff" font-weight="bold" transform="rotate(-90 73.75 569.80)" textLength="20.5" lengthAdjust="spacingAndGlyphs">inv(16)</text>
<text x="93.15" y="569.80" font-size="6.6" text-anchor="start" fill="#fff" stroke="#fff" font-weight="bold" transform="rotate(-90 93.15 569.80)" textLength="20.5" lengthAdjust="spacingAndGlyphs">t(9;11)</text>
<text x="112.85" y="569.80" font-size="6.6" text-anchor="start" fill="#fff" stroke="#fff" font-weight="bold" transform="rotate(-90 112.85 569.80)" textLength="18.5" lengthAdjust="spacingAndGlyphs">t(6;9)</text>
<text x="132.50" y="569.80" font-size="6.6" text-anchor="start" fill="#fff" stroke="#fff" font-weight="bold" transform="rotate(-90 132.50 569.80)" textLength="20.5" lengthAdjust="spacingAndGlyphs">inv(3)</text>
<text x="151.95" y="569.8" font-size="6.6" fill="#fff" stroke="#fff" font-weight="bold" transform="rotate(-90 151.95 569.8)">CEBPA<tspan font-size="4" dy="-2.6">mut/mut</tspan></text>
<text x="171.85" y="556.0" font-size="6.6" fill="#111" stroke="#111" font-weight="bold" transform="rotate(-90 171.85 556.0)">NPM1<tspan font-size="4" dy="-2.6">mut</tspan></text>
<text x="191.65" y="569.40" font-size="6.6" text-anchor="start" fill="#fff" stroke="#fff" font-weight="bold" transform="rotate(-90 191.65 569.40)" textLength="23.3" lengthAdjust="spacingAndGlyphs">all AML</text>
<line x1="51.30" y1="453.00" x2="188.40" y2="453.00" stroke="#111" stroke-width="1.3"/>
<line x1="51.30" y1="456.25" x2="168.70" y2="456.25" stroke="#111" stroke-width="1.3"/>
<line x1="51.30" y1="459.50" x2="149.90" y2="459.50" stroke="#111" stroke-width="1.3"/>
<line x1="51.30" y1="462.75" x2="130.20" y2="462.75" stroke="#111" stroke-width="1.3"/>
<line x1="51.30" y1="466.00" x2="110.10" y2="466.00" stroke="#111" stroke-width="1.3"/>
<line x1="51.30" y1="469.25" x2="90.20" y2="469.25" stroke="#111" stroke-width="1.3"/>
<line x1="51.30" y1="472.50" x2="72.70" y2="472.50" stroke="#111" stroke-width="1.3"/>
<g fill="#111"><circle cx="115.90" cy="449.10" r="1.1"/><circle cx="119.80" cy="449.10" r="1.1"/><circle cx="123.70" cy="449.10" r="1.1"/></g>
<text x="23.0" y="507.2" font-size="8.8" text-anchor="middle" fill="#222" stroke="#222" transform="rotate(-90 23.0 507.2)" textLength="111" lengthAdjust="spacingAndGlyphs"><tspan font-style="italic">MPL</tspan> mean expression [log<tspan font-size="6" dy="1.8">2</tspan><tspan dy="-1.8">]</tspan></text>
<text x="230.50" y="439.80" font-size="14.8" text-anchor="start" fill="#000" stroke="#000" font-weight="bold" textLength="9.07" lengthAdjust="spacingAndGlyphs">E</text>
<line x1="264.00" y1="453.00" x2="264.00" y2="572.80" stroke="#111" stroke-width="1.2"/>
<line x1="263.40" y1="572.80" x2="321.50" y2="572.80" stroke="#111" stroke-width="1.3"/>
<line x1="261.00" y1="456.00" x2="264.00" y2="456.00" stroke="#111" stroke-width="1.1"/>
<text x="258.00" y="458.20" font-size="7.8" text-anchor="end" fill="#2a2a2a" stroke="#2a2a2a">15</text>
<line x1="261.00" y1="495.00" x2="264.00" y2="495.00" stroke="#111" stroke-width="1.1"/>
<text x="258.00" y="497.20" font-size="7.8" text-anchor="end" fill="#2a2a2a" stroke="#2a2a2a">10</text>
<line x1="261.00" y1="533.90" x2="264.00" y2="533.90" stroke="#111" stroke-width="1.1"/>
<text x="258.00" y="536.10" font-size="7.8" text-anchor="end" fill="#2a2a2a" stroke="#2a2a2a">5</text>
<line x1="261.00" y1="572.80" x2="264.00" y2="572.80" stroke="#111" stroke-width="1.1"/>
<text x="258.00" y="575.00" font-size="7.8" text-anchor="end" fill="#2a2a2a" stroke="#2a2a2a">0</text>
<rect x="268.20" y="501.50" width="19.40" height="71.30" fill="#000"/>
<line x1="277.90" y1="499.60" x2="277.90" y2="502.00" stroke="#111" stroke-width="1.2"/>
<line x1="273.10" y1="499.60" x2="282.70" y2="499.60" stroke="#111" stroke-width="1.4"/>
<rect x="297.40" y="503.20" width="18.70" height="69.60" fill="#000"/>
<line x1="306.75" y1="496.70" x2="306.75" y2="503.70" stroke="#111" stroke-width="1.2"/>
<line x1="301.95" y1="496.70" x2="311.55" y2="496.70" stroke="#111" stroke-width="1.4"/>
<text x="313.20" y="464.20" font-size="7.6" text-anchor="middle" fill="#222" stroke="#222">ns</text>
<text x="242.40" y="514.30" font-size="9.0" text-anchor="middle" fill="#222" stroke="#222" transform="rotate(-90 242.40 514.30)">Hb [g/l]</text>
<text x="277.90" y="583.30" font-size="7.6" text-anchor="middle" fill="#111" stroke="#111">all</text>
<text x="306.60" y="583.30" font-size="7.6" text-anchor="middle" fill="#111" stroke="#111">t(8;21)</text>
<line x1="362.50" y1="453.00" x2="362.50" y2="573.40" stroke="#111" stroke-width="1.2"/>
<line x1="361.90" y1="573.40" x2="420.40" y2="573.40" stroke="#111" stroke-width="1.3"/>
<line x1="359.50" y1="456.20" x2="362.50" y2="456.20" stroke="#111" stroke-width="1.1"/>
<text x="356.50" y="458.40" font-size="7.8" text-anchor="end" fill="#2a2a2a" stroke="#2a2a2a">100</text>
<line x1="359.50" y1="479.60" x2="362.50" y2="479.60" stroke="#111" stroke-width="1.1"/>
<text x="356.50" y="481.80" font-size="7.8" text-anchor="end" fill="#2a2a2a" stroke="#2a2a2a">80</text>
<line x1="359.50" y1="503.00" x2="362.50" y2="503.00" stroke="#111" stroke-width="1.1"/>
<text x="356.50" y="505.20" font-size="7.8" text-anchor="end" fill="#2a2a2a" stroke="#2a2a2a">60</text>
<line x1="359.50" y1="526.50" x2="362.50" y2="526.50" stroke="#111" stroke-width="1.1"/>
<text x="356.50" y="528.70" font-size="7.8" text-anchor="end" fill="#2a2a2a" stroke="#2a2a2a">40</text>
<line x1="359.50" y1="550.00" x2="362.50" y2="550.00" stroke="#111" stroke-width="1.1"/>
<text x="356.50" y="552.20" font-size="7.8" text-anchor="end" fill="#2a2a2a" stroke="#2a2a2a">20</text>
<line x1="359.50" y1="573.40" x2="362.50" y2="573.40" stroke="#111" stroke-width="1.1"/>
<text x="356.50" y="575.60" font-size="7.8" text-anchor="end" fill="#2a2a2a" stroke="#2a2a2a">0</text>
<rect x="367.90" y="481.00" width="18.90" height="92.40" fill="#000"/>
<line x1="377.35" y1="470.40" x2="377.35" y2="481.50" stroke="#111" stroke-width="1.2"/>
<line x1="372.55" y1="470.40" x2="382.15" y2="470.40" stroke="#111" stroke-width="1.4"/>
<rect x="396.90" y="526.80" width="19.30" height="46.60" fill="#000"/>
<line x1="406.55" y1="510.00" x2="406.55" y2="527.30" stroke="#111" stroke-width="1.2"/>
<line x1="401.75" y1="510.00" x2="411.35" y2="510.00" stroke="#111" stroke-width="1.4"/>
<line x1="378.00" y1="463.90" x2="406.50" y2="463.90" stroke="#111" stroke-width="1.2"/>
<g fill="#111"><circle cx="386.80" cy="459.90" r="1.1"/><circle cx="390.70" cy="459.90" r="1.1"/><circle cx="394.60" cy="459.90" r="1.1"/><circle cx="398.50" cy="459.90" r="1.1"/></g>
<text x="338.70" y="514.30" font-size="9.0" text-anchor="middle" fill="#222" stroke="#222" transform="rotate(-90 338.70 514.30)">Plt [G/l]</text>
<text x="377.30" y="583.30" font-size="7.6" text-anchor="middle" fill="#111" stroke="#111">all</text>
<text x="406.00" y="583.30" font-size="7.6" text-anchor="middle" fill="#111" stroke="#111">t(8;21)</text>
<line x1="454.50" y1="452.80" x2="454.50" y2="572.90" stroke="#111" stroke-width="1.2"/>
<line x1="453.90" y1="572.90" x2="510.40" y2="572.90" stroke="#111" stroke-width="1.3"/>
<line x1="451.50" y1="455.80" x2="454.50" y2="455.80" stroke="#111" stroke-width="1.1"/>
<text x="448.50" y="458.00" font-size="7.8" text-anchor="end" fill="#2a2a2a" stroke="#2a2a2a">6</text>
<line x1="451.50" y1="494.80" x2="454.50" y2="494.80" stroke="#111" stroke-width="1.1"/>
<text x="448.50" y="497.00" font-size="7.8" text-anchor="end" fill="#2a2a2a" stroke="#2a2a2a">4</text>
<line x1="451.50" y1="533.90" x2="454.50" y2="533.90" stroke="#111" stroke-width="1.1"/>
<text x="448.50" y="536.10" font-size="7.8" text-anchor="end" fill="#2a2a2a" stroke="#2a2a2a">2</text>
<line x1="451.50" y1="572.90" x2="454.50" y2="572.90" stroke="#111" stroke-width="1.1"/>
<text x="448.50" y="575.10" font-size="7.8" text-anchor="end" fill="#2a2a2a" stroke="#2a2a2a">0</text>
<rect x="460.00" y="492.30" width="18.80" height="80.60" fill="#000"/>
<line x1="469.40" y1="479.60" x2="469.40" y2="492.80" stroke="#111" stroke-width="1.2"/>
<line x1="464.60" y1="479.60" x2="474.20" y2="479.60" stroke="#111" stroke-width="1.4"/>
<rect x="489.00" y="531.70" width="19.20" height="41.20" fill="#000"/>
<line x1="498.60" y1="518.70" x2="498.60" y2="532.20" stroke="#111" stroke-width="1.2"/>
<line x1="493.80" y1="518.70" x2="503.40" y2="518.70" stroke="#111" stroke-width="1.4"/>
<line x1="469.30" y1="463.90" x2="497.50" y2="463.90" stroke="#111" stroke-width="1.2"/>
<g fill="#111"><circle cx="477.95" cy="459.90" r="1.1"/><circle cx="481.85" cy="459.90" r="1.1"/><circle cx="485.75" cy="459.90" r="1.1"/><circle cx="489.65" cy="459.90" r="1.1"/></g>
<text x="438.00" y="514.30" font-size="9.0" text-anchor="middle" fill="#222" stroke="#222" transform="rotate(-90 438.00 514.30)">ANC [G/l]</text>
<text x="469.40" y="583.30" font-size="7.6" text-anchor="middle" fill="#111" stroke="#111">all</text>
<text x="498.60" y="583.30" font-size="7.6" text-anchor="middle" fill="#111" stroke="#111">t(8;21)</text>
<text x="4.10" y="600.50" font-size="14.8" text-anchor="start" fill="#000" stroke="#000" font-weight="bold" textLength="8.31" lengthAdjust="spacingAndGlyphs">F</text>
<line x1="131.2" y1="609.6" x2="131.2" y2="731.3" stroke="#a8a8a8" stroke-width="1.3"/>
<text x="29.90" y="625.30" font-size="9.2" text-anchor="start" fill="#3c4637" stroke="#3c4637" font-weight="bold" textLength="18.8" lengthAdjust="spacingAndGlyphs">TPO</text>
<circle cx="56.5" cy="618.3" r="3.6" fill="#cfe6c4" opacity="0.55"/>
<circle cx="56.5" cy="618.3" r="2.4" fill="url(#gdot)"/>
<circle cx="68.0" cy="621.0" r="3.6" fill="#cfe6c4" opacity="0.55"/>
<circle cx="68.0" cy="621.0" r="2.4" fill="url(#gdot)"/>
<circle cx="51.8" cy="630.4" r="3.6" fill="#cfe6c4" opacity="0.55"/>
<circle cx="51.8" cy="630.4" r="2.4" fill="url(#gdot)"/>
<circle cx="31.6" cy="633.7" r="3.6" fill="#cfe6c4" opacity="0.55"/>
<circle cx="31.6" cy="633.7" r="2.4" fill="url(#gdot)"/>
<circle cx="45.1" cy="637.8" r="3.6" fill="#cfe6c4" opacity="0.55"/>
<circle cx="45.1" cy="637.8" r="2.4" fill="url(#gdot)"/>
<circle cx="35.0" cy="645.9" r="3.6" fill="#cfe6c4" opacity="0.55"/>
<circle cx="35.0" cy="645.9" r="2.4" fill="url(#gdot)"/>
<circle cx="45.1" cy="651.9" r="3.6" fill="#cfe6c4" opacity="0.55"/>
<circle cx="45.1" cy="651.9" r="2.4" fill="url(#gdot)"/>
<circle cx="91.0" cy="624.4" r="15.0" fill="#f0d2d2" opacity="0.7"/>
<circle cx="91.0" cy="624.4" r="13.2" fill="url(#gred)"/>
<circle cx="91.0" cy="624.4" r="12.6" fill="none" stroke="#420707" stroke-width="1.2"/>
<circle cx="73.1" cy="656.9" r="14.8" fill="#f0d2d2" opacity="0.7"/>
<circle cx="73.1" cy="656.9" r="13.0" fill="url(#gred)"/>
<circle cx="73.1" cy="656.9" r="12.4" fill="none" stroke="#420707" stroke-width="1.2"/>
<text x="88.5" y="648.0" font-size="9.2" font-weight="bold" fill="#3a2c2c" stroke="#3a2c2c">MPL<tspan font-size="6" dy="-3.2">lo</tspan></text>
<text x="88.50" y="658.80" font-size="9.2" text-anchor="start" fill="#3a2c2c" stroke="#3a2c2c" font-weight="bold" textLength="25.3" lengthAdjust="spacingAndGlyphs">blasts</text>
<path d="M34.4,656.4 C35.2,669 39,679 46.6,687.6" fill="none" stroke="#3c6c2e" stroke-width="2.1" stroke-linecap="round"/>
<path d="M36.4,686.0 L48.6,689.8 L48.0,676.4" fill="none" stroke="#3c6c2e" stroke-width="2.1" stroke-linecap="round" stroke-linejoin="round"/>
<circle cx="65.1" cy="703.9" r="13.0" fill="#9cc2f0" stroke="#3362b4" stroke-width="1.3"/>
<circle cx="65.1" cy="703.9" r="10.7" fill="url(#gblue)" stroke="#2a56aa" stroke-width="1.3"/>
<circle cx="110.5" cy="694.8" r="13.3" fill="#9cc2f0" stroke="#3362b4" stroke-width="1.3"/>
<circle cx="110.5" cy="694.8" r="11.0" fill="url(#gblue)" stroke="#2a56aa" stroke-width="1.3"/>
<polyline points="86.3,715.7 77.2,708.5 88.7,708.9" fill="none" stroke="#6e6e6e" stroke-width="1.3" stroke-linejoin="round"/>
<line x1="86.3" y1="715.7" x2="87.9" y2="716.3" stroke="#6e6e6e" stroke-width="1.2"/>
<line x1="88.7" y1="708.9" x2="90.4" y2="709.5" stroke="#6e6e6e" stroke-width="1.2"/>
<circle cx="88.4" cy="712.6" r="3.8" fill="#cfe6c4" opacity="0.55"/>
<circle cx="88.4" cy="712.6" r="2.6" fill="url(#gdot)"/>
<polyline points="86.0,688.0 97.4,693.2 85.0,695.2" fill="none" stroke="#6e6e6e" stroke-width="1.3" stroke-linejoin="round"/>
<line x1="86.0" y1="688.0" x2="84.2" y2="687.8" stroke="#6e6e6e" stroke-width="1.2"/>
<line x1="85.0" y1="695.2" x2="83.2" y2="694.9" stroke="#6e6e6e" stroke-width="1.2"/>
<circle cx="84.5" cy="691.5" r="3.8" fill="#cfe6c4" opacity="0.55"/>
<circle cx="84.5" cy="691.5" r="2.6" fill="url(#gdot)"/>
<text x="52.80" y="728.70" font-size="9.0" text-anchor="start" fill="#3b4a78" stroke="#3b4a78" font-weight="bold" textLength="24.7" lengthAdjust="spacingAndGlyphs">HSPC</text>
<text x="138.50" y="621.50" font-size="9.2" text-anchor="start" fill="#3c4637" stroke="#3c4637" font-weight="bold" textLength="18.6" lengthAdjust="spacingAndGlyphs">TPO</text>
<circle cx="162.5" cy="623.1" r="3.6" fill="#cfe6c4" opacity="0.55"/>
<circle cx="162.5" cy="623.1" r="2.4" fill="url(#gdot)"/>
<circle cx="141.0" cy="630.8" r="3.6" fill="#cfe6c4" opacity="0.55"/>
<circle cx="141.0" cy="630.8" r="2.4" fill="url(#gdot)"/>
<circle cx="141.3" cy="641.3" r="3.6" fill="#cfe6c4" opacity="0.55"/>
<circle cx="141.3" cy="641.3" r="2.4" fill="url(#gdot)"/>
<path d="M151.5,638.1 C155,640.5 163,641.5 170.4,638.8" fill="none" stroke="#7a1818" stroke-width="2.1" stroke-linecap="round"/>
<path d="M161.5,633.5 L175.0,635.8 L167.7,646.9" fill="none" stroke="#7a1818" stroke-width="2.1" stroke-linecap="round" stroke-linejoin="round"/>
<polyline points="177.2,621.8 188.6,627.8 175.8,629.2" fill="none" stroke="#6e6e6e" stroke-width="1.3" stroke-linejoin="round"/>
<line x1="177.2" y1="621.8" x2="175.4" y2="621.4" stroke="#6e6e6e" stroke-width="1.2"/>
<line x1="175.8" y1="629.2" x2="174.0" y2="628.9" stroke="#6e6e6e" stroke-width="1.2"/>
<polyline points="224.4,629.6 213.2,627.0 223.6,622.0" fill="none" stroke="#6e6e6e" stroke-width="1.3" stroke-linejoin="round"/>
<line x1="224.4" y1="629.6" x2="226.2" y2="629.4" stroke="#6e6e6e" stroke-width="1.2"/>
<line x1="223.6" y1="622.0" x2="225.4" y2="621.8" stroke="#6e6e6e" stroke-width="1.2"/>
<circle cx="225.0" cy="625.7" r="3.8" fill="#cfe6c4" opacity="0.55"/>
<circle cx="225.0" cy="625.7" r="2.6" fill="url(#gdot)"/>
<polyline points="170.8,652.0 182.0,656.6 170.2,659.6" fill="none" stroke="#6e6e6e" stroke-width="1.3" stroke-linejoin="round"/>
<line x1="170.8" y1="652.0" x2="169.0" y2="651.9" stroke="#6e6e6e" stroke-width="1.2"/>
<line x1="170.2" y1="659.6" x2="168.4" y2="659.5" stroke="#6e6e6e" stroke-width="1.2"/>
<circle cx="169.5" cy="655.7" r="3.8" fill="#cfe6c4" opacity="0.55"/>
<circle cx="169.5" cy="655.7" r="2.6" fill="url(#gdot)"/>
<polyline points="216.5,670.8 206.2,665.6 217.5,663.2" fill="none" stroke="#6e6e6e" stroke-width="1.3" stroke-linejoin="round"/>
<line x1="216.5" y1="670.8" x2="218.3" y2="671.0" stroke="#6e6e6e" stroke-width="1.2"/>
<line x1="217.5" y1="663.2" x2="219.3" y2="663.5" stroke="#6e6e6e" stroke-width="1.2"/>
<circle cx="218.0" cy="667.1" r="3.8" fill="#cfe6c4" opacity="0.55"/>
<circle cx="218.0" cy="667.1" r="2.6" fill="url(#gdot)"/>
<polyline points="174.8,676.8 185.5,671.0 180.4,682.0" fill="none" stroke="#6e6e6e" stroke-width="1.3" stroke-linejoin="round"/>
<line x1="174.8" y1="676.8" x2="173.6" y2="678.1" stroke="#6e6e6e" stroke-width="1.2"/>
<line x1="180.4" y1="682.0" x2="179.1" y2="683.3" stroke="#6e6e6e" stroke-width="1.2"/>
<circle cx="200.9" cy="629.6" r="14.4" fill="#f0d2d2" opacity="0.7"/>
<circle cx="200.9" cy="629.6" r="12.6" fill="url(#gred)"/>
<circle cx="200.9" cy="629.6" r="12.0" fill="none" stroke="#420707" stroke-width="1.2"/>
<circle cx="194.2" cy="661.9" r="14.4" fill="#f0d2d2" opacity="0.7"/>
<circle cx="194.2" cy="661.9" r="12.6" fill="url(#gred)"/>
<circle cx="194.2" cy="661.9" r="12.0" fill="none" stroke="#420707" stroke-width="1.2"/>
<circle cx="196.0" cy="628.2" r="2.6" fill="url(#gdot2)"/>
<circle cx="203.4" cy="633.5" r="2.6" fill="url(#gdot2)"/>
<circle cx="199.6" cy="659.6" r="2.6" fill="url(#gdot2)"/>
<circle cx="191.2" cy="664.7" r="2.6" fill="url(#gdot2)"/>
<text x="208.8" y="648.0" font-size="9.2" font-weight="bold" fill="#3a2c2c" stroke="#3a2c2c">MPL<tspan font-size="6" dy="-3.2">hi</tspan></text>
<text x="208.80" y="658.10" font-size="9.2" text-anchor="start" fill="#3a2c2c" stroke="#3a2c2c" font-weight="bold" textLength="26.0" lengthAdjust="spacingAndGlyphs">blasts</text>
<circle cx="157.9" cy="703.5" r="13.3" fill="#9cc2f0" stroke="#3362b4" stroke-width="1.3"/>
<circle cx="157.9" cy="703.5" r="11.0" fill="url(#gblue)" stroke="#2a56aa" stroke-width="1.3"/>
<polyline points="178.7,716.0 170.0,708.8 181.3,709.2" fill="none" stroke="#6e6e6e" stroke-width="1.3" stroke-linejoin="round"/>
<line x1="178.7" y1="716.0" x2="180.4" y2="716.6" stroke="#6e6e6e" stroke-width="1.2"/>
<line x1="181.3" y1="709.2" x2="183.0" y2="709.9" stroke="#6e6e6e" stroke-width="1.2"/>
<text x="178.50" y="706.30" font-size="9.0" text-anchor="start" fill="#4a4a4a" stroke="#4a4a4a" font-weight="bold" textLength="19.2" lengthAdjust="spacingAndGlyphs">MPL</text>
<text x="145.00" y="728.50" font-size="9.0" text-anchor="start" fill="#3b4a78" stroke="#3b4a78" font-weight="bold" textLength="25.0" lengthAdjust="spacingAndGlyphs">HSPC</text>
<rect x="0.5" y="0.5" width="519" height="737" fill="none" stroke="#303030" stroke-width="1.1"/>
</svg>
</body></html>
